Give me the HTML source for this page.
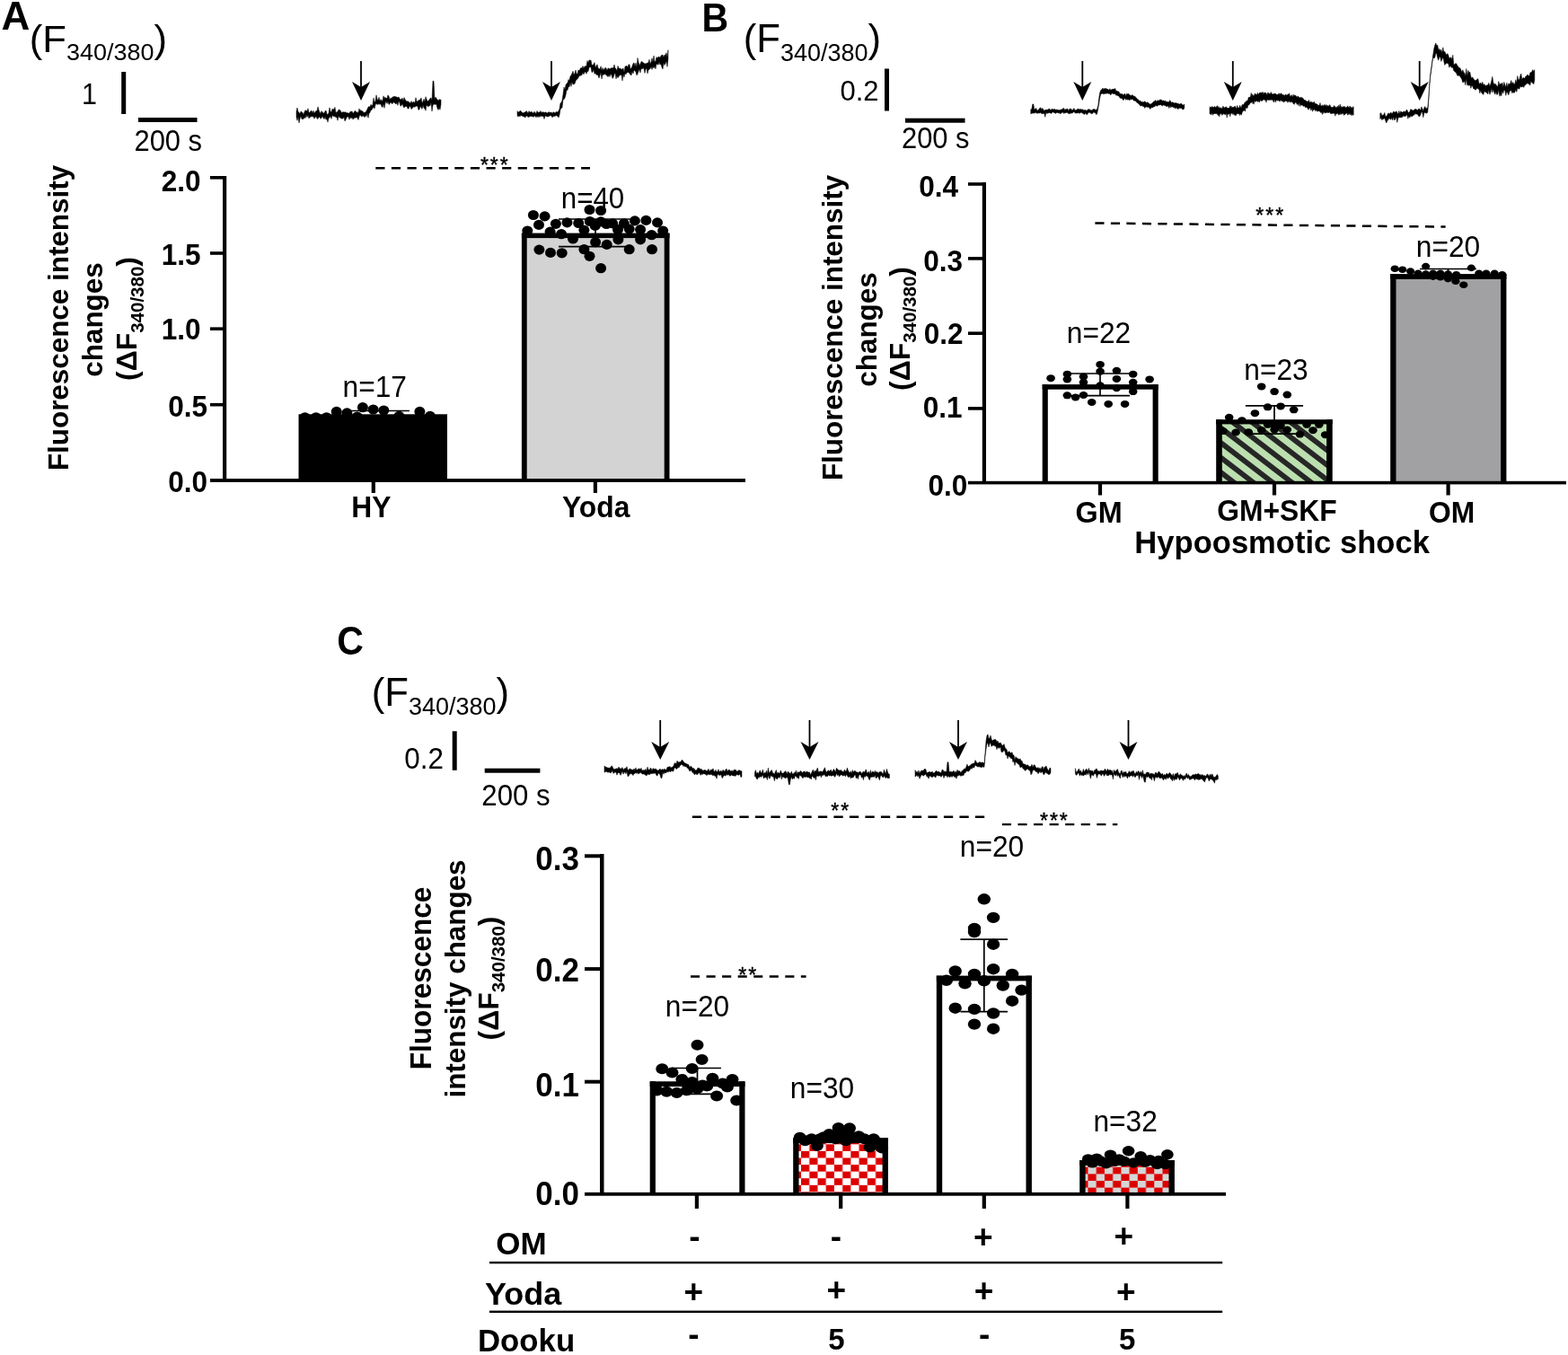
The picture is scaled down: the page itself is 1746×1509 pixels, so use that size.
<!DOCTYPE html>
<html lang="en"><head><meta charset="utf-8"><title>Figure</title>
<style>
html,body{margin:0;padding:0;background:#fff;}
body{width:1746px;height:1509px;overflow:hidden;}
svg{display:block;font-family:'Liberation Sans',Arial,Helvetica,sans-serif;fill:#000;}
</style></head><body>
<svg width="1746" height="1509" viewBox="0 0 1746 1509">
<rect width="1746" height="1509" fill="#fff"/>
<defs><clipPath id="cpH"><rect x="1358" y="470" width="122.5" height="66"/></clipPath><pattern id="chk1" width="18.44" height="15.16" patternUnits="userSpaceOnUse" x="892.05" y="1312.24"><rect width="18.44" height="15.16" fill="#fff"/><rect width="9.22" height="7.58" fill="#dc0000"/><rect x="9.22" y="7.58" width="9.22" height="7.58" fill="#dc0000"/></pattern><pattern id="chk2" width="18.44" height="15.2" patternUnits="userSpaceOnUse" x="1211.5" y="1307.4"><rect width="18.44" height="15.2" fill="#d4d6d6"/><rect width="9.22" height="7.6" fill="#dc0000"/><rect x="9.22" y="7.6" width="9.22" height="7.6" fill="#dc0000"/></pattern></defs>
<text transform="translate(1.5 32.8) scale(1.0 1.016)" font-size="44" font-weight="bold" text-anchor="start">A</text>
<text transform="translate(32.8 57.5) scale(1 0.97)" font-size="43.7">(F<tspan font-size="27" dy="9.8">340/380</tspan><tspan dy="-9.8">)</tspan></text>
<text transform="translate(91 116) scale(1.0 1.06)" font-size="30.5" text-anchor="start">1</text>
<rect x="135.2" y="80" width="5" height="47" fill="#000"/>
<rect x="154" y="131" width="65.5" height="5" fill="#000"/>
<text transform="translate(149.5 168.2) scale(1.0 1.06)" font-size="30.9" text-anchor="start">200 s</text>
<path d="M330.0 124.1 331.0 120.0 332.0 124.5 333.0 125.2 334.0 126.7 335.0 124.1 336.0 124.5 337.0 125.6 338.0 127.7 339.0 124.5 340.0 122.8 341.0 123.1 342.0 124.1 343.0 120.8 344.0 125.6 345.0 125.3 346.0 123.5 347.0 123.3 348.0 125.9 349.0 123.2 350.0 126.3 351.0 124.4 352.0 123.5 353.0 123.6 354.0 118.9 355.0 122.5 356.0 125.0 357.0 126.4 358.0 123.6 359.0 124.8 360.0 126.0 361.0 126.0 362.0 123.8 363.0 123.1 364.0 127.0 365.0 127.7 366.0 125.7 367.0 119.8 368.0 123.9 369.0 124.9 370.0 121.2 371.0 122.1 372.0 121.5 373.0 119.4 374.0 125.8 375.0 124.4 376.0 124.7 377.0 121.9 378.0 122.5 379.0 122.8 380.0 125.2 381.0 125.2 382.0 124.6 383.0 125.1 384.0 124.9 385.0 124.7 386.0 126.0 387.0 125.5 388.0 126.2 389.0 126.1 390.0 124.2 391.0 124.6 392.0 123.8 393.0 126.3 394.0 125.5 395.0 123.6 396.0 123.7 397.0 125.6 398.0 124.6 399.0 125.7 400.0 120.9 401.0 123.4 402.0 122.5 403.0 123.8 404.0 124.0 405.0 125.4 406.0 125.3 407.0 125.0 408.0 123.4 409.0 121.4 410.0 119.2 411.0 118.5 412.0 119.3 413.0 116.3 414.0 117.8 415.0 116.6 416.0 109.1 417.0 113.9 418.0 112.6 419.0 105.8 420.0 110.3 421.0 111.6 422.0 108.2 423.0 112.8 424.0 110.5 425.0 112.4 426.0 111.9 427.0 106.8 428.0 109.6 429.0 108.2 430.0 109.4 431.0 109.6 432.0 105.8 433.0 107.2 434.0 111.2 435.0 108.9 436.0 110.0 437.0 107.8 438.0 108.3 439.0 106.9 440.0 108.0 441.0 107.6 442.0 108.4 443.0 108.6 444.0 108.0 445.0 109.7 446.0 111.3 447.0 110.2 448.0 109.2 449.0 112.6 450.0 108.6 451.0 110.5 452.0 112.4 453.0 112.7 454.0 113.0 455.0 112.9 456.0 114.4 457.0 115.0 458.0 112.6 459.0 114.6 460.0 113.8 461.0 113.3 462.0 115.0 463.0 108.6 464.0 113.4 465.0 112.6 466.0 111.8 467.0 111.5 468.0 110.8 469.0 108.9 470.0 114.8 471.0 112.9 472.0 110.3 473.0 113.5 474.0 107.7 475.0 110.4 476.0 113.1 477.0 112.1 478.0 111.3 479.0 109.4 480.0 109.0 481.0 111.7 482.0 90.2 483.0 90.3 484.0 110.6 485.0 108.1 486.0 109.8 487.0 110.7 488.0 112.2 489.0 110.6 490.0 111.2 491.0 110.9 491.0 116.2 490.0 122.2 489.0 120.1 488.0 122.5 487.0 120.5 486.0 116.5 485.0 116.0 484.0 116.4 483.0 115.7 482.0 117.5 481.0 124.0 480.0 114.3 479.0 117.8 478.0 117.4 477.0 118.9 476.0 118.0 475.0 116.7 474.0 123.2 473.0 120.8 472.0 120.4 471.0 116.9 470.0 121.4 469.0 119.9 468.0 118.2 467.0 121.8 466.0 122.6 465.0 118.4 464.0 118.1 463.0 118.2 462.0 119.4 461.0 118.7 460.0 119.3 459.0 120.8 458.0 121.5 457.0 118.9 456.0 117.9 455.0 121.1 454.0 121.0 453.0 118.2 452.0 118.8 451.0 118.4 450.0 120.1 449.0 118.5 448.0 115.5 447.0 117.5 446.0 118.3 445.0 114.7 444.0 112.2 443.0 117.4 442.0 114.3 441.0 116.0 440.0 115.3 439.0 114.3 438.0 113.5 437.0 115.7 436.0 115.0 435.0 113.7 434.0 115.6 433.0 116.5 432.0 113.1 431.0 115.5 430.0 112.7 429.0 114.9 428.0 120.4 427.0 115.4 426.0 119.6 425.0 118.8 424.0 115.5 423.0 116.6 422.0 115.6 421.0 116.1 420.0 116.6 419.0 115.2 418.0 116.8 417.0 121.0 416.0 119.0 415.0 120.6 414.0 122.4 413.0 122.6 412.0 125.2 411.0 126.3 410.0 131.4 409.0 126.3 408.0 129.8 407.0 128.5 406.0 130.7 405.0 129.6 404.0 128.4 403.0 130.3 402.0 128.8 401.0 128.3 400.0 129.7 399.0 133.5 398.0 131.5 397.0 130.5 396.0 131.5 395.0 130.8 394.0 132.1 393.0 133.1 392.0 130.4 391.0 132.0 390.0 130.3 389.0 133.3 388.0 130.2 387.0 129.7 386.0 131.0 385.0 133.3 384.0 134.9 383.0 130.1 382.0 132.2 381.0 131.8 380.0 132.2 379.0 130.9 378.0 131.1 377.0 128.9 376.0 134.2 375.0 130.4 374.0 130.9 373.0 129.3 372.0 130.0 371.0 129.3 370.0 128.5 369.0 132.4 368.0 129.3 367.0 131.0 366.0 131.6 365.0 136.1 364.0 132.5 363.0 133.2 362.0 130.0 361.0 132.7 360.0 131.3 359.0 129.5 358.0 131.3 357.0 132.4 356.0 130.3 355.0 130.3 354.0 132.4 353.0 132.1 352.0 129.8 351.0 130.3 350.0 132.3 349.0 129.7 348.0 130.0 347.0 129.6 346.0 130.2 345.0 130.3 344.0 132.0 343.0 127.9 342.0 130.6 341.0 128.1 340.0 131.7 339.0 130.6 338.0 132.5 337.0 132.5 336.0 132.6 335.0 129.0 334.0 132.2 333.0 137.0 332.0 129.7 331.0 134.3 330.0 130.5Z" fill="#000" stroke="#000" stroke-width="0.5" stroke-linejoin="round"/>
<path d="M576.0 123.6 577.0 125.3 578.0 124.6 579.0 123.4 580.0 123.5 581.0 125.3 582.0 125.6 583.0 126.0 584.0 124.8 585.0 125.1 586.0 123.6 587.0 124.4 588.0 126.4 589.0 123.6 590.0 124.9 591.0 124.9 592.0 124.2 593.0 125.6 594.0 126.2 595.0 124.1 596.0 125.7 597.0 126.4 598.0 123.5 599.0 125.2 600.0 125.1 601.0 124.9 602.0 123.5 603.0 125.5 604.0 124.8 605.0 124.8 606.0 125.5 607.0 125.1 608.0 124.8 609.0 126.2 610.0 125.6 611.0 124.5 612.0 125.3 613.0 125.3 614.0 125.0 615.0 126.4 616.0 124.8 617.0 125.0 618.0 126.2 619.0 124.5 620.0 124.8 621.0 124.8 622.0 123.4 623.0 121.3 624.0 114.9 625.0 114.3 626.0 111.5 627.0 105.2 628.0 96.9 629.0 100.1 630.0 94.6 631.0 93.1 632.0 92.3 633.0 88.5 634.0 89.7 635.0 84.9 636.0 83.7 637.0 81.8 638.0 79.2 639.0 83.6 640.0 81.5 641.0 78.1 642.0 82.3 643.0 82.3 644.0 77.8 645.0 79.0 646.0 76.7 647.0 75.2 648.0 76.3 649.0 73.4 650.0 76.4 651.0 73.8 652.0 73.8 653.0 73.8 654.0 67.6 655.0 70.2 656.0 66.7 657.0 67.5 658.0 67.0 659.0 72.2 660.0 72.6 661.0 71.6 662.0 69.6 663.0 75.4 664.0 73.3 665.0 71.7 666.0 75.7 667.0 76.6 668.0 77.0 669.0 73.7 670.0 78.6 671.0 75.4 672.0 78.4 673.0 76.4 674.0 75.5 675.0 75.8 676.0 78.8 677.0 75.9 678.0 76.1 679.0 77.3 680.0 75.7 681.0 76.1 682.0 75.5 683.0 75.9 684.0 72.0 685.0 76.1 686.0 76.6 687.0 79.1 688.0 73.4 689.0 75.8 690.0 76.6 691.0 75.9 692.0 77.8 693.0 76.6 694.0 76.2 695.0 80.4 696.0 74.1 697.0 73.8 698.0 73.2 699.0 75.3 700.0 71.7 701.0 71.9 702.0 77.0 703.0 75.7 704.0 73.7 705.0 70.7 706.0 69.9 707.0 73.7 708.0 70.1 709.0 74.9 710.0 64.4 711.0 69.3 712.0 73.0 713.0 70.9 714.0 68.7 715.0 68.4 716.0 69.9 717.0 69.9 718.0 71.4 719.0 70.6 720.0 70.7 721.0 70.1 722.0 69.7 723.0 66.2 724.0 71.3 725.0 68.9 726.0 64.7 727.0 69.4 728.0 62.0 729.0 68.9 730.0 68.1 731.0 63.5 732.0 64.8 733.0 63.3 734.0 63.2 735.0 64.3 736.0 62.1 737.0 61.4 738.0 61.1 739.0 64.0 740.0 61.0 741.0 61.6 742.0 58.8 743.0 63.9 744.0 55.7 744.0 65.4 743.0 74.4 742.0 68.0 741.0 70.7 740.0 72.6 739.0 70.0 738.0 76.9 737.0 74.9 736.0 71.3 735.0 72.3 734.0 68.9 733.0 72.3 732.0 71.6 731.0 71.2 730.0 76.8 729.0 73.7 728.0 76.1 727.0 74.1 726.0 77.4 725.0 74.2 724.0 76.7 723.0 77.0 722.0 78.2 721.0 81.9 720.0 76.2 719.0 77.1 718.0 81.5 717.0 76.6 716.0 75.7 715.0 76.9 714.0 76.2 713.0 81.1 712.0 77.1 711.0 79.5 710.0 82.3 709.0 83.9 708.0 80.3 707.0 78.8 706.0 78.2 705.0 82.0 704.0 79.3 703.0 84.0 702.0 83.0 701.0 82.0 700.0 80.3 699.0 81.0 698.0 80.6 697.0 82.9 696.0 81.6 695.0 86.1 694.0 82.8 693.0 90.0 692.0 82.8 691.0 84.0 690.0 83.4 689.0 85.3 688.0 86.7 687.0 84.0 686.0 87.9 685.0 81.0 684.0 82.9 683.0 86.1 682.0 87.4 681.0 83.8 680.0 82.3 679.0 85.6 678.0 83.3 677.0 85.7 676.0 83.9 675.0 84.1 674.0 82.1 673.0 83.1 672.0 83.3 671.0 83.0 670.0 88.0 669.0 80.6 668.0 84.2 667.0 87.0 666.0 84.1 665.0 82.9 664.0 83.5 663.0 81.0 662.0 82.5 661.0 77.3 660.0 80.2 659.0 80.5 658.0 74.9 657.0 74.4 656.0 75.5 655.0 79.5 654.0 79.4 653.0 82.3 652.0 80.1 651.0 80.2 650.0 82.9 649.0 80.4 648.0 83.5 647.0 84.0 646.0 84.3 645.0 84.6 644.0 86.4 643.0 88.0 642.0 88.6 641.0 90.2 640.0 93.2 639.0 93.6 638.0 94.3 637.0 90.9 636.0 96.3 635.0 92.0 634.0 97.0 633.0 96.2 632.0 100.6 631.0 100.0 630.0 105.8 629.0 109.1 628.0 110.8 627.0 110.7 626.0 119.9 625.0 120.4 624.0 121.8 623.0 128.0 622.0 130.9 621.0 129.4 620.0 128.9 619.0 128.4 618.0 129.8 617.0 129.0 616.0 129.8 615.0 130.8 614.0 129.3 613.0 128.4 612.0 128.9 611.0 129.9 610.0 129.5 609.0 130.2 608.0 128.9 607.0 129.2 606.0 132.5 605.0 129.3 604.0 129.5 603.0 129.5 602.0 128.7 601.0 130.6 600.0 128.9 599.0 130.7 598.0 129.1 597.0 130.7 596.0 129.4 595.0 128.7 594.0 130.6 593.0 129.4 592.0 129.8 591.0 129.2 590.0 129.8 589.0 130.1 588.0 130.7 587.0 128.9 586.0 129.0 585.0 130.8 584.0 130.5 583.0 129.4 582.0 129.7 581.0 128.7 580.0 128.6 579.0 129.8 578.0 128.7 577.0 130.2 576.0 128.3Z" fill="#000" stroke="#000" stroke-width="0.5" stroke-linejoin="round"/>
<line x1="402" y1="68" x2="402" y2="99" stroke="#000" stroke-width="1.8"/>
<path d="M402 112 L392 91 L402 97 L412 91 Z" fill="#000"/>
<line x1="614" y1="68" x2="614" y2="99" stroke="#000" stroke-width="1.8"/>
<path d="M614 112 L604 91 L614 97 L624 91 Z" fill="#000"/>
<line x1="418.3" y1="187.2" x2="657" y2="187.2" stroke="#000" stroke-width="2.4" stroke-dasharray="10.2 7.4"/>
<text transform="translate(551.3 191.7)" font-size="23" letter-spacing="1.95" text-anchor="middle" stroke="#000" stroke-width="0.4">***</text>
<rect x="248" y="196" width="4.2" height="340.5" fill="#000"/>
<rect x="234" y="196" width="16" height="3.6" fill="#000"/>
<rect x="234" y="280.2" width="16" height="3.6" fill="#000"/>
<rect x="234" y="364.4" width="16" height="3.6" fill="#000"/>
<rect x="234" y="448.9" width="16" height="3.6" fill="#000"/>
<rect x="413.7" y="534" width="4.2" height="15" fill="#000"/>
<rect x="660.8" y="534" width="4.2" height="15" fill="#000"/>
<text transform="translate(223.5 212.7) scale(1.0 1.04)" font-size="31.5" font-weight="bold" text-anchor="end">2.0</text>
<text transform="translate(223.5 294.7) scale(1.0 1.04)" font-size="31.5" font-weight="bold" text-anchor="end">1.5</text>
<text transform="translate(223.5 378.3) scale(1.0 1.04)" font-size="31.5" font-weight="bold" text-anchor="end">1.0</text>
<text transform="translate(231 463.5) scale(1.0 1.04)" font-size="31.5" font-weight="bold" text-anchor="end">0.5</text>
<text transform="translate(231 548.2) scale(1.0 1.04)" font-size="31.5" font-weight="bold" text-anchor="end">0.0</text>
<text transform="translate(76 354) rotate(-90)" font-size="31.4" font-weight="bold" text-anchor="middle">Fluorescence intensity</text>
<text transform="translate(114.3 356) rotate(-90)" font-size="31.4" font-weight="bold" text-anchor="middle">changes</text>
<text transform="translate(152 355) rotate(-90) scale(1 1.0)" font-size="32" font-weight="bold" text-anchor="middle">(ΔF<tspan font-size="20.5" dy="7.5">340/380</tspan><tspan dy="-7.5">)</tspan></text>
<rect x="332.5" y="461.3" width="165.5" height="73" fill="#000"/>
<rect x="583.8" y="262.35" width="158.8" height="271.65" fill="#d3d3d3"/>
<rect x="580.9" y="259.6" width="5.8" height="274.4" fill="#000"/>
<rect x="739.7" y="259.6" width="5.8" height="274.4" fill="#000"/>
<rect x="580.9" y="259.6" width="164.6" height="5.5" fill="#000"/>
<text transform="translate(417.3 442.3) scale(1.0 1.04)" font-size="31.7" text-anchor="middle">n=17</text>
<text transform="translate(660 232) scale(1.0 1.04)" font-size="31.3" text-anchor="middle">n=40</text>
<text transform="translate(413.4 576.4) scale(1.0 1.04)" font-size="31.8" font-weight="bold" text-anchor="middle">HY</text>
<text transform="translate(663.7 576) scale(1.0 1.04)" font-size="31.8" font-weight="bold" text-anchor="middle">Yoda</text>
<g fill="#000">
<ellipse cx="339.6" cy="464.8" rx="6" ry="5.6"/>
<ellipse cx="351.9" cy="464.8" rx="6" ry="5.6"/>
<ellipse cx="363.6" cy="464.8" rx="6" ry="5.6"/>
<ellipse cx="374.7" cy="458.4" rx="6" ry="5.6"/>
<ellipse cx="386.4" cy="459.9" rx="6" ry="5.6"/>
<ellipse cx="397.7" cy="464.2" rx="6" ry="5.6"/>
<ellipse cx="403.9" cy="453.7" rx="6" ry="5.6"/>
<ellipse cx="415.6" cy="456.0" rx="6" ry="5.6"/>
<ellipse cx="427.3" cy="457.0" rx="6" ry="5.6"/>
<ellipse cx="444.4" cy="463.4" rx="6" ry="5.6"/>
<ellipse cx="467.4" cy="458.4" rx="6" ry="5.6"/>
<ellipse cx="478.9" cy="463.4" rx="6" ry="5.6"/>
<ellipse cx="593.9" cy="239.5" rx="6" ry="5.6"/>
<ellipse cx="606.6" cy="240.9" rx="6" ry="5.6"/>
<ellipse cx="656.5" cy="233.5" rx="6" ry="5.6"/>
<ellipse cx="669.1" cy="234.5" rx="6" ry="5.6"/>
<ellipse cx="600.0" cy="250.4" rx="6" ry="5.6"/>
<ellipse cx="618.9" cy="249.3" rx="6" ry="5.6"/>
<ellipse cx="631.5" cy="247.9" rx="6" ry="5.6"/>
<ellipse cx="644.2" cy="248.5" rx="6" ry="5.6"/>
<ellipse cx="656.8" cy="246.5" rx="6" ry="5.6"/>
<ellipse cx="669.1" cy="246.9" rx="6" ry="5.6"/>
<ellipse cx="662.7" cy="251.4" rx="6" ry="5.6"/>
<ellipse cx="675.3" cy="249.5" rx="6" ry="5.6"/>
<ellipse cx="682.2" cy="248.9" rx="6" ry="5.6"/>
<ellipse cx="694.8" cy="248.9" rx="6" ry="5.6"/>
<ellipse cx="706.9" cy="245.9" rx="6" ry="5.6"/>
<ellipse cx="719.4" cy="245.4" rx="6" ry="5.6"/>
<ellipse cx="732.0" cy="247.9" rx="6" ry="5.6"/>
<ellipse cx="587.3" cy="257.0" rx="6" ry="5.6"/>
<ellipse cx="612.6" cy="258.2" rx="6" ry="5.6"/>
<ellipse cx="625.1" cy="260.7" rx="6" ry="5.6"/>
<ellipse cx="650.4" cy="256.3" rx="6" ry="5.6"/>
<ellipse cx="688.0" cy="255.7" rx="6" ry="5.6"/>
<ellipse cx="700.7" cy="255.1" rx="6" ry="5.6"/>
<ellipse cx="713.1" cy="255.7" rx="6" ry="5.6"/>
<ellipse cx="738.2" cy="257.0" rx="6" ry="5.6"/>
<ellipse cx="725.6" cy="261.7" rx="6" ry="5.6"/>
<ellipse cx="638.0" cy="266.0" rx="6" ry="5.6"/>
<ellipse cx="663.1" cy="269.7" rx="6" ry="5.6"/>
<ellipse cx="675.7" cy="272.4" rx="6" ry="5.6"/>
<ellipse cx="688.4" cy="266.8" rx="6" ry="5.6"/>
<ellipse cx="713.1" cy="266.8" rx="6" ry="5.6"/>
<ellipse cx="600.4" cy="278.1" rx="6" ry="5.6"/>
<ellipse cx="613.0" cy="281.4" rx="6" ry="5.6"/>
<ellipse cx="625.7" cy="281.8" rx="6" ry="5.6"/>
<ellipse cx="650.4" cy="277.7" rx="6" ry="5.6"/>
<ellipse cx="656.5" cy="285.3" rx="6" ry="5.6"/>
<ellipse cx="700.7" cy="277.7" rx="6" ry="5.6"/>
<ellipse cx="726.0" cy="277.7" rx="6" ry="5.6"/>
<ellipse cx="669.1" cy="298.7" rx="6" ry="5.6"/>
</g>
<line x1="663" y1="244" x2="663" y2="274.6" stroke="#000" stroke-width="1.7"/>
<line x1="622" y1="244" x2="701.6" y2="244" stroke="#000" stroke-width="1.7"/>
<line x1="622" y1="274.6" x2="701.6" y2="274.6" stroke="#000" stroke-width="1.7"/>
<rect x="234" y="533.1" width="596" height="3.8" fill="#000"/>
<line x1="391" y1="457.5" x2="456" y2="457.5" stroke="#000" stroke-width="1.7"/>
<text transform="translate(781.5 35.2) scale(1.0 1.065)" font-size="41" font-weight="bold" text-anchor="start">B</text>
<text transform="translate(827.8 57.7) scale(1 1.02)" font-size="43.7">(F<tspan font-size="27" dy="9.8">340/380</tspan><tspan dy="-9.8">)</tspan></text>
<text transform="translate(935.5 111.5) scale(1.0 1.04)" font-size="31" text-anchor="start">0.2</text>
<rect x="985" y="76.5" width="5" height="47" fill="#000"/>
<rect x="1008" y="131.7" width="66.5" height="5" fill="#000"/>
<text transform="translate(1004 165) scale(1.0 1.06)" font-size="30.9" text-anchor="start">200 s</text>
<path d="M1147.8 121.7 1148.8 121.7 1149.8 115.9 1150.8 115.9 1151.8 122.2 1152.8 121.2 1153.8 120.5 1154.8 123.0 1155.8 123.0 1156.8 121.6 1157.8 120.4 1158.8 119.8 1159.8 122.0 1160.8 120.4 1161.8 122.1 1162.8 123.4 1163.8 122.3 1164.8 122.4 1165.8 122.0 1166.8 122.3 1167.8 121.3 1168.8 121.1 1169.8 123.2 1170.8 121.5 1171.8 121.5 1172.8 121.8 1173.8 121.7 1174.8 121.6 1175.8 122.4 1176.8 122.0 1177.8 122.2 1178.8 122.8 1179.8 122.5 1180.8 122.4 1181.8 121.8 1182.8 121.9 1183.8 120.5 1184.8 120.7 1185.8 122.7 1186.8 121.3 1187.8 121.8 1188.8 120.9 1189.8 123.5 1190.8 121.4 1191.8 121.0 1192.8 121.3 1193.8 122.9 1194.8 121.9 1195.8 120.5 1196.8 122.4 1197.8 122.7 1198.8 122.4 1199.8 121.3 1200.8 121.3 1201.8 121.8 1202.8 121.8 1203.8 121.4 1204.8 122.2 1205.8 121.7 1206.8 123.1 1207.8 122.6 1208.8 122.3 1209.8 123.5 1210.8 122.4 1211.8 121.7 1212.8 121.7 1213.8 122.1 1214.8 122.9 1215.8 122.7 1216.8 122.0 1217.8 121.6 1218.8 121.6 1219.8 122.2 1220.8 122.6 1221.8 120.8 1222.8 117.2 1223.8 108.6 1224.8 103.0 1225.8 100.2 1226.8 99.9 1227.8 98.1 1228.8 99.5 1229.8 98.3 1230.8 98.9 1231.8 98.3 1232.8 99.5 1233.8 99.3 1234.8 100.4 1235.8 98.7 1236.8 100.6 1237.8 99.6 1238.8 99.6 1239.8 99.1 1240.8 99.2 1241.8 98.4 1242.8 101.5 1243.8 101.0 1244.8 102.3 1245.8 101.7 1246.8 104.3 1247.8 104.0 1248.8 105.1 1249.8 104.6 1250.8 105.8 1251.8 104.9 1252.8 104.2 1253.8 107.1 1254.8 104.1 1255.8 105.1 1256.8 104.2 1257.8 106.0 1258.8 105.9 1259.8 106.7 1260.8 105.4 1261.8 106.6 1262.8 107.3 1263.8 107.2 1264.8 108.4 1265.8 109.4 1266.8 110.4 1267.8 111.2 1268.8 112.5 1269.8 112.0 1270.8 113.9 1271.8 112.9 1272.8 113.9 1273.8 113.6 1274.8 112.8 1275.8 113.7 1276.8 114.5 1277.8 113.8 1278.8 114.8 1279.8 115.3 1280.8 116.3 1281.8 115.6 1282.8 115.3 1283.8 113.8 1284.8 113.0 1285.8 112.5 1286.8 111.6 1287.8 113.4 1288.8 111.7 1289.8 112.0 1290.8 112.0 1291.8 110.7 1292.8 111.2 1293.8 111.5 1294.8 112.4 1295.8 111.7 1296.8 113.1 1297.8 111.9 1298.8 114.0 1299.8 113.1 1300.8 113.7 1301.8 113.6 1302.8 111.6 1303.8 113.6 1304.8 114.3 1305.8 113.7 1306.8 114.3 1307.8 115.0 1308.8 114.6 1309.8 114.7 1310.8 115.1 1311.8 115.5 1312.8 115.6 1313.8 116.2 1314.8 115.2 1315.8 115.5 1316.8 116.7 1317.8 117.0 1318.8 116.1 1318.8 120.4 1317.8 121.9 1316.8 121.9 1315.8 120.5 1314.8 120.4 1313.8 120.3 1312.8 120.7 1311.8 121.5 1310.8 121.1 1309.8 119.2 1308.8 121.2 1307.8 119.5 1306.8 120.0 1305.8 118.9 1304.8 118.6 1303.8 120.0 1302.8 117.6 1301.8 120.5 1300.8 118.1 1299.8 118.3 1298.8 118.7 1297.8 117.7 1296.8 117.6 1295.8 116.8 1294.8 117.8 1293.8 117.7 1292.8 116.6 1291.8 117.0 1290.8 117.0 1289.8 116.8 1288.8 118.2 1287.8 117.9 1286.8 117.2 1285.8 118.9 1284.8 118.4 1283.8 119.9 1282.8 119.6 1281.8 120.3 1280.8 121.5 1279.8 120.3 1278.8 119.1 1277.8 119.5 1276.8 119.1 1275.8 118.8 1274.8 120.5 1273.8 118.5 1272.8 118.8 1271.8 117.4 1270.8 118.1 1269.8 117.8 1268.8 116.5 1267.8 115.6 1266.8 114.8 1265.8 114.0 1264.8 113.1 1263.8 111.9 1262.8 112.4 1261.8 111.0 1260.8 110.4 1259.8 111.1 1258.8 110.2 1257.8 111.9 1256.8 110.5 1255.8 111.4 1254.8 110.3 1253.8 111.4 1252.8 109.3 1251.8 110.5 1250.8 111.8 1249.8 109.9 1248.8 109.5 1247.8 109.4 1246.8 108.7 1245.8 106.8 1244.8 106.9 1243.8 105.8 1242.8 106.4 1241.8 104.2 1240.8 104.7 1239.8 104.6 1238.8 104.0 1237.8 104.2 1236.8 105.9 1235.8 104.1 1234.8 104.7 1233.8 103.4 1232.8 104.5 1231.8 103.4 1230.8 104.8 1229.8 104.0 1228.8 104.9 1227.8 104.1 1226.8 104.4 1225.8 104.7 1224.8 108.6 1223.8 115.2 1222.8 120.7 1221.8 125.9 1220.8 127.8 1219.8 125.7 1218.8 125.5 1217.8 124.7 1216.8 126.3 1215.8 126.6 1214.8 126.6 1213.8 125.2 1212.8 125.2 1211.8 125.4 1210.8 127.4 1209.8 127.5 1208.8 125.4 1207.8 127.4 1206.8 127.1 1205.8 126.2 1204.8 125.8 1203.8 125.1 1202.8 126.0 1201.8 126.2 1200.8 125.4 1199.8 125.9 1198.8 126.1 1197.8 126.1 1196.8 125.4 1195.8 124.6 1194.8 125.3 1193.8 126.2 1192.8 125.7 1191.8 126.6 1190.8 126.6 1189.8 126.5 1188.8 125.8 1187.8 124.9 1186.8 125.9 1185.8 125.6 1184.8 126.6 1183.8 125.1 1182.8 125.3 1181.8 125.8 1180.8 126.9 1179.8 125.8 1178.8 126.1 1177.8 125.4 1176.8 125.3 1175.8 126.4 1174.8 125.7 1173.8 125.8 1172.8 124.7 1171.8 125.1 1170.8 126.4 1169.8 126.0 1168.8 125.4 1167.8 125.7 1166.8 126.0 1165.8 126.5 1164.8 125.2 1163.8 130.4 1162.8 126.3 1161.8 126.4 1160.8 126.4 1159.8 126.7 1158.8 125.3 1157.8 126.1 1156.8 125.7 1155.8 126.3 1154.8 126.1 1153.8 126.0 1152.8 125.1 1151.8 126.3 1150.8 125.8 1149.8 126.3 1148.8 125.9 1147.8 127.1Z" fill="#000" stroke="#000" stroke-width="0.5" stroke-linejoin="round"/>
<path d="M1347.0 120.0 1347.6 118.7 1348.2 120.1 1348.8 119.6 1349.4 118.7 1350.0 118.5 1350.6 120.4 1351.2 118.9 1351.8 120.2 1352.4 118.4 1353.0 119.0 1353.6 119.9 1354.2 118.6 1354.8 120.1 1355.4 117.6 1356.0 118.3 1356.6 120.7 1357.2 118.7 1357.8 120.2 1358.4 120.4 1359.0 120.0 1359.6 119.8 1360.2 120.6 1360.8 121.4 1361.4 119.3 1362.0 118.1 1362.6 119.7 1363.2 119.7 1363.8 119.9 1364.4 119.5 1365.0 118.7 1365.6 119.1 1366.2 120.6 1366.8 119.9 1367.4 120.5 1368.0 120.3 1368.6 120.3 1369.2 119.5 1369.8 117.8 1370.4 119.4 1371.0 118.0 1371.6 120.0 1372.2 119.6 1372.8 119.6 1373.4 119.0 1374.0 119.7 1374.6 118.6 1375.2 118.0 1375.8 118.9 1376.4 120.6 1377.0 120.9 1377.6 117.4 1378.2 119.0 1378.8 120.3 1379.4 119.9 1380.0 120.0 1380.6 117.3 1381.2 118.5 1381.8 120.2 1382.4 119.2 1383.0 116.8 1383.6 116.4 1384.2 116.6 1384.8 116.2 1385.4 116.1 1386.0 113.8 1386.6 114.2 1387.2 113.3 1387.8 112.5 1388.4 111.9 1389.0 112.3 1389.6 111.4 1390.2 108.3 1390.8 108.5 1391.4 108.2 1392.0 108.6 1392.6 107.1 1393.2 103.5 1393.8 107.0 1394.4 104.7 1395.0 107.6 1395.6 105.8 1396.2 106.6 1396.8 105.7 1397.4 104.0 1398.0 104.4 1398.6 105.3 1399.2 104.8 1399.8 105.9 1400.4 103.2 1401.0 104.9 1401.6 105.3 1402.2 103.6 1402.8 103.2 1403.4 103.8 1404.0 102.6 1404.6 104.3 1405.2 103.2 1405.8 102.5 1406.4 105.4 1407.0 102.6 1407.6 104.4 1408.2 103.4 1408.8 103.3 1409.4 103.5 1410.0 103.6 1410.6 105.4 1411.2 105.6 1411.8 102.8 1412.4 103.9 1413.0 103.8 1413.6 104.7 1414.2 103.6 1414.8 105.3 1415.4 102.4 1416.0 105.0 1416.6 104.3 1417.2 105.1 1417.8 105.0 1418.4 104.2 1419.0 104.3 1419.6 104.8 1420.2 103.9 1420.8 104.8 1421.4 105.3 1422.0 105.2 1422.6 105.7 1423.2 104.6 1423.8 105.0 1424.4 103.7 1425.0 106.4 1425.6 104.4 1426.2 103.8 1426.8 103.9 1427.4 105.7 1428.0 104.8 1428.6 105.8 1429.2 106.3 1429.8 105.6 1430.4 106.4 1431.0 106.0 1431.6 104.8 1432.2 106.6 1432.8 105.6 1433.4 105.5 1434.0 105.7 1434.6 104.7 1435.2 105.2 1435.8 103.8 1436.4 107.3 1437.0 107.4 1437.6 106.3 1438.2 107.9 1438.8 105.4 1439.4 107.1 1440.0 107.8 1440.6 105.3 1441.2 105.8 1441.8 106.9 1442.4 105.9 1443.0 106.6 1443.6 107.8 1444.2 107.2 1444.8 108.7 1445.4 106.9 1446.0 108.2 1446.6 108.1 1447.2 108.8 1447.8 109.3 1448.4 108.1 1449.0 108.6 1449.6 108.8 1450.2 108.9 1450.8 109.2 1451.4 110.1 1452.0 111.3 1452.6 111.5 1453.2 111.8 1453.8 111.5 1454.4 112.2 1455.0 112.9 1455.6 113.0 1456.2 112.8 1456.8 113.3 1457.4 111.3 1458.0 113.2 1458.6 114.3 1459.2 113.8 1459.8 112.9 1460.4 113.5 1461.0 114.6 1461.6 114.1 1462.2 113.7 1462.8 114.8 1463.4 113.1 1464.0 115.6 1464.6 115.2 1465.2 115.4 1465.8 115.6 1466.4 116.2 1467.0 116.0 1467.6 117.4 1468.2 117.2 1468.8 117.3 1469.4 116.7 1470.0 114.5 1470.6 117.8 1471.2 117.7 1471.8 118.2 1472.4 116.7 1473.0 118.0 1473.6 118.2 1474.2 116.9 1474.8 116.3 1475.4 117.8 1476.0 117.9 1476.6 116.4 1477.2 116.9 1477.8 119.0 1478.4 117.7 1479.0 117.4 1479.6 118.8 1480.2 117.3 1480.8 116.6 1481.4 118.1 1482.0 118.9 1482.6 119.6 1483.2 119.4 1483.8 119.7 1484.4 119.0 1485.0 119.3 1485.6 117.6 1486.2 118.1 1486.8 119.0 1487.4 119.9 1488.0 119.4 1488.6 119.5 1489.2 118.2 1489.8 119.9 1490.4 117.2 1491.0 119.9 1491.6 118.4 1492.2 116.0 1492.8 119.1 1493.4 118.4 1494.0 120.4 1494.6 119.0 1495.2 119.3 1495.8 118.5 1496.4 119.5 1497.0 118.3 1497.6 119.2 1498.2 119.3 1498.8 120.5 1499.4 119.3 1500.0 119.6 1500.6 117.8 1501.2 119.3 1501.8 119.3 1502.4 120.2 1503.0 118.0 1503.6 120.1 1504.2 118.7 1504.8 120.6 1505.4 120.1 1506.0 120.2 1506.6 118.7 1507.2 119.0 1507.2 128.1 1506.6 127.0 1506.0 128.7 1505.4 126.5 1504.8 128.6 1504.2 127.1 1503.6 127.8 1503.0 125.6 1502.4 127.5 1501.8 126.1 1501.2 128.0 1500.6 128.1 1500.0 125.6 1499.4 126.2 1498.8 126.8 1498.2 126.2 1497.6 127.9 1497.0 126.6 1496.4 128.6 1495.8 126.0 1495.2 126.4 1494.6 126.9 1494.0 126.4 1493.4 127.1 1492.8 127.7 1492.2 125.4 1491.6 127.7 1491.0 126.3 1490.4 128.2 1489.8 125.9 1489.2 126.4 1488.6 126.3 1488.0 127.4 1487.4 126.4 1486.8 129.3 1486.2 126.0 1485.6 126.5 1485.0 126.1 1484.4 126.1 1483.8 126.8 1483.2 125.8 1482.6 126.5 1482.0 127.0 1481.4 125.9 1480.8 125.3 1480.2 125.0 1479.6 125.4 1479.0 125.7 1478.4 125.2 1477.8 125.1 1477.2 125.7 1476.6 125.4 1476.0 125.7 1475.4 126.1 1474.8 124.6 1474.2 125.3 1473.6 126.5 1473.0 123.7 1472.4 127.6 1471.8 124.5 1471.2 125.6 1470.6 125.4 1470.0 124.4 1469.4 124.1 1468.8 123.3 1468.2 123.9 1467.6 123.4 1467.0 124.4 1466.4 123.5 1465.8 122.9 1465.2 123.1 1464.6 123.8 1464.0 121.7 1463.4 121.9 1462.8 122.4 1462.2 122.7 1461.6 124.3 1461.0 121.1 1460.4 121.4 1459.8 123.2 1459.2 120.4 1458.6 120.0 1458.0 121.1 1457.4 121.6 1456.8 122.3 1456.2 120.3 1455.6 120.2 1455.0 119.5 1454.4 119.3 1453.8 120.1 1453.2 118.8 1452.6 118.4 1452.0 117.6 1451.4 118.6 1450.8 117.6 1450.2 117.2 1449.6 116.9 1449.0 117.2 1448.4 116.5 1447.8 118.6 1447.2 115.5 1446.6 114.8 1446.0 117.8 1445.4 116.1 1444.8 115.2 1444.2 116.4 1443.6 115.1 1443.0 113.5 1442.4 114.5 1441.8 114.4 1441.2 116.4 1440.6 115.4 1440.0 115.5 1439.4 114.1 1438.8 113.6 1438.2 113.4 1437.6 113.1 1437.0 114.2 1436.4 113.4 1435.8 113.4 1435.2 112.6 1434.6 112.8 1434.0 114.4 1433.4 112.7 1432.8 112.5 1432.2 113.0 1431.6 112.3 1431.0 112.2 1430.4 113.3 1429.8 113.6 1429.2 113.7 1428.6 113.2 1428.0 111.9 1427.4 112.8 1426.8 111.3 1426.2 112.3 1425.6 111.7 1425.0 113.3 1424.4 112.4 1423.8 111.1 1423.2 112.2 1422.6 112.2 1422.0 111.3 1421.4 112.0 1420.8 112.4 1420.2 114.1 1419.6 111.6 1419.0 110.9 1418.4 113.9 1417.8 112.9 1417.2 111.4 1416.6 111.0 1416.0 111.4 1415.4 111.2 1414.8 111.1 1414.2 111.3 1413.6 111.2 1413.0 111.8 1412.4 111.3 1411.8 111.1 1411.2 111.5 1410.6 111.5 1410.0 114.1 1409.4 111.5 1408.8 112.1 1408.2 111.6 1407.6 110.6 1407.0 111.0 1406.4 111.6 1405.8 112.2 1405.2 112.1 1404.6 112.8 1404.0 111.0 1403.4 111.6 1402.8 113.4 1402.2 113.6 1401.6 111.6 1401.0 113.8 1400.4 113.2 1399.8 112.4 1399.2 111.9 1398.6 112.9 1398.0 113.6 1397.4 112.8 1396.8 112.5 1396.2 116.1 1395.6 113.6 1395.0 115.7 1394.4 112.5 1393.8 114.4 1393.2 113.8 1392.6 114.5 1392.0 115.0 1391.4 116.0 1390.8 116.9 1390.2 117.0 1389.6 117.7 1389.0 120.5 1388.4 120.4 1387.8 119.9 1387.2 120.1 1386.6 123.9 1386.0 123.7 1385.4 122.2 1384.8 123.4 1384.2 123.7 1383.6 124.2 1383.0 125.9 1382.4 128.2 1381.8 127.1 1381.2 127.0 1380.6 128.5 1380.0 126.2 1379.4 127.1 1378.8 126.7 1378.2 126.8 1377.6 126.2 1377.0 127.2 1376.4 128.6 1375.8 127.9 1375.2 128.7 1374.6 126.6 1374.0 128.2 1373.4 125.5 1372.8 127.5 1372.2 126.2 1371.6 126.1 1371.0 126.4 1370.4 126.9 1369.8 129.8 1369.2 126.1 1368.6 126.9 1368.0 127.6 1367.4 127.3 1366.8 126.3 1366.2 131.2 1365.6 127.2 1365.0 126.3 1364.4 128.1 1363.8 126.9 1363.2 127.3 1362.6 126.3 1362.0 127.4 1361.4 127.3 1360.8 128.4 1360.2 126.4 1359.6 126.2 1359.0 127.3 1358.4 126.7 1357.8 130.1 1357.2 127.5 1356.6 128.4 1356.0 128.3 1355.4 126.7 1354.8 126.7 1354.2 126.4 1353.6 126.5 1353.0 127.1 1352.4 126.2 1351.8 126.8 1351.2 126.7 1350.6 128.3 1350.0 126.6 1349.4 126.1 1348.8 128.2 1348.2 126.1 1347.6 127.3 1347.0 126.6Z" fill="#000" stroke="#000" stroke-width="0.5" stroke-linejoin="round"/>
<path d="M1536.8 126.6 1537.8 125.6 1538.8 128.9 1539.8 128.0 1540.8 127.9 1541.8 125.4 1542.8 129.8 1543.8 129.5 1544.8 127.9 1545.8 125.9 1546.8 126.4 1547.8 126.5 1548.8 124.9 1549.8 127.1 1550.8 125.6 1551.8 123.9 1552.8 124.9 1553.8 125.0 1554.8 123.7 1555.8 125.3 1556.8 127.2 1557.8 123.4 1558.8 126.7 1559.8 123.8 1560.8 124.7 1561.8 125.1 1562.8 124.5 1563.8 123.7 1564.8 125.1 1565.8 122.8 1566.8 122.3 1567.8 124.8 1568.8 125.5 1569.8 124.3 1570.8 121.6 1571.8 122.2 1572.8 122.6 1573.8 123.3 1574.8 122.0 1575.8 121.6 1576.8 121.6 1577.8 122.3 1578.8 122.8 1579.8 121.0 1580.8 121.2 1581.8 123.3 1582.8 118.9 1583.8 120.9 1584.8 123.5 1585.8 120.2 1586.8 118.5 1587.8 121.1 1588.8 120.4 1589.8 119.8 1590.8 108.9 1591.8 92.8 1592.8 82.3 1593.8 75.1 1594.8 67.9 1595.8 60.5 1596.8 54.1 1597.8 50.3 1598.8 48.0 1599.8 50.8 1600.8 50.2 1601.8 56.1 1602.8 54.3 1603.8 56.9 1604.8 55.2 1605.8 59.1 1606.8 52.8 1607.8 57.9 1608.8 57.3 1609.8 59.8 1610.8 61.2 1611.8 59.6 1612.8 61.5 1613.8 65.1 1614.8 64.6 1615.8 63.6 1616.8 66.7 1617.8 61.2 1618.8 71.7 1619.8 71.7 1620.8 70.5 1621.8 71.0 1622.8 73.3 1623.8 74.0 1624.8 76.1 1625.8 75.6 1626.8 77.8 1627.8 80.5 1628.8 77.8 1629.8 80.5 1630.8 81.2 1631.8 84.8 1632.8 76.5 1633.8 84.9 1634.8 78.4 1635.8 80.8 1636.8 80.2 1637.8 85.1 1638.8 87.6 1639.8 85.8 1640.8 87.9 1641.8 88.9 1642.8 90.0 1643.8 88.9 1644.8 88.5 1645.8 87.6 1646.8 92.2 1647.8 93.5 1648.8 91.9 1649.8 94.3 1650.8 91.3 1651.8 95.2 1652.8 93.6 1653.8 95.2 1654.8 95.4 1655.8 94.8 1656.8 94.7 1657.8 92.3 1658.8 96.1 1659.8 93.8 1660.8 90.1 1661.8 85.3 1662.8 91.7 1663.8 93.9 1664.8 93.3 1665.8 94.0 1666.8 96.0 1667.8 96.3 1668.8 90.6 1669.8 94.8 1670.8 92.9 1671.8 93.8 1672.8 92.0 1673.8 96.9 1674.8 91.4 1675.8 94.2 1676.8 97.3 1677.8 92.2 1678.8 97.0 1679.8 92.7 1680.8 94.3 1681.8 92.6 1682.8 89.5 1683.8 93.7 1684.8 91.5 1685.8 93.7 1686.8 93.4 1687.8 88.7 1688.8 92.3 1689.8 84.5 1690.8 89.1 1691.8 88.5 1692.8 84.6 1693.8 82.0 1694.8 88.4 1695.8 86.8 1696.8 86.6 1697.8 87.6 1698.8 85.1 1699.8 84.8 1700.8 83.1 1701.8 84.1 1702.8 85.0 1703.8 81.1 1704.8 80.4 1705.8 79.9 1706.8 77.6 1707.8 79.8 1708.8 77.7 1708.8 89.2 1707.8 93.7 1706.8 92.5 1705.8 92.1 1704.8 90.3 1703.8 95.0 1702.8 94.1 1701.8 93.3 1700.8 92.7 1699.8 93.6 1698.8 94.5 1697.8 94.8 1696.8 97.4 1695.8 96.1 1694.8 96.9 1693.8 96.8 1692.8 96.3 1691.8 99.2 1690.8 98.7 1689.8 98.2 1688.8 102.4 1687.8 99.5 1686.8 102.7 1685.8 103.6 1684.8 102.6 1683.8 103.8 1682.8 100.7 1681.8 100.9 1680.8 102.2 1679.8 105.9 1678.8 103.6 1677.8 101.8 1676.8 106.4 1675.8 101.3 1674.8 99.8 1673.8 104.1 1672.8 101.1 1671.8 106.9 1670.8 104.7 1669.8 107.3 1668.8 99.9 1667.8 104.9 1666.8 105.5 1665.8 101.9 1664.8 105.3 1663.8 102.9 1662.8 99.6 1661.8 103.1 1660.8 98.3 1659.8 103.2 1658.8 105.2 1657.8 100.0 1656.8 104.9 1655.8 103.3 1654.8 103.1 1653.8 102.3 1652.8 101.8 1651.8 105.4 1650.8 104.6 1649.8 103.4 1648.8 100.5 1647.8 103.8 1646.8 98.9 1645.8 99.2 1644.8 97.8 1643.8 99.7 1642.8 100.3 1641.8 99.1 1640.8 98.9 1639.8 96.2 1638.8 95.0 1637.8 98.4 1636.8 94.0 1635.8 95.6 1634.8 94.4 1633.8 95.1 1632.8 87.6 1631.8 94.8 1630.8 90.5 1629.8 91.2 1628.8 91.9 1627.8 88.5 1626.8 86.7 1625.8 85.2 1624.8 83.9 1623.8 84.2 1622.8 84.2 1621.8 81.7 1620.8 80.4 1619.8 79.5 1618.8 78.9 1617.8 75.1 1616.8 75.6 1615.8 74.5 1614.8 73.0 1613.8 75.2 1612.8 70.9 1611.8 70.4 1610.8 70.3 1609.8 71.1 1608.8 72.4 1607.8 68.5 1606.8 63.8 1605.8 66.0 1604.8 68.4 1603.8 64.1 1602.8 62.9 1601.8 67.2 1600.8 64.7 1599.8 60.2 1598.8 59.1 1597.8 63.9 1596.8 65.1 1595.8 63.4 1594.8 70.4 1593.8 78.0 1592.8 84.9 1591.8 95.6 1590.8 111.9 1589.8 125.0 1588.8 126.1 1587.8 126.2 1586.8 125.1 1585.8 126.1 1584.8 130.8 1583.8 125.6 1582.8 124.6 1581.8 127.7 1580.8 129.8 1579.8 129.5 1578.8 127.9 1577.8 126.8 1576.8 127.4 1575.8 126.1 1574.8 128.3 1573.8 127.8 1572.8 129.7 1571.8 129.5 1570.8 129.1 1569.8 131.1 1568.8 129.2 1567.8 132.3 1566.8 127.8 1565.8 128.7 1564.8 129.8 1563.8 129.6 1562.8 128.8 1561.8 130.3 1560.8 130.7 1559.8 130.7 1558.8 131.0 1557.8 130.5 1556.8 131.8 1555.8 136.4 1554.8 129.7 1553.8 132.7 1552.8 134.0 1551.8 130.0 1550.8 134.0 1549.8 131.1 1548.8 133.3 1547.8 132.5 1546.8 131.5 1545.8 133.6 1544.8 134.5 1543.8 137.0 1542.8 134.5 1541.8 131.6 1540.8 132.5 1539.8 132.6 1538.8 133.8 1537.8 130.9 1536.8 132.6Z" fill="#000" stroke="#000" stroke-width="0.5" stroke-linejoin="round"/>
<line x1="1205.3" y1="68" x2="1205.3" y2="99" stroke="#000" stroke-width="1.8"/>
<path d="M1205.3 112 L1195.3 91 L1205.3 97 L1215.3 91 Z" fill="#000"/>
<line x1="1372.8" y1="68" x2="1372.8" y2="99" stroke="#000" stroke-width="1.8"/>
<path d="M1372.8 112 L1362.8 91 L1372.8 97 L1382.8 91 Z" fill="#000"/>
<line x1="1580.7" y1="68" x2="1580.7" y2="99" stroke="#000" stroke-width="1.8"/>
<path d="M1580.7 112 L1570.7 91 L1580.7 97 L1590.7 91 Z" fill="#000"/>
<line x1="1219.4" y1="248.5" x2="1609.6" y2="252.6" stroke="#000" stroke-width="2.5" stroke-dasharray="10.1 7.4"/>
<text transform="translate(1414.7 247.9)" font-size="23" letter-spacing="1.95" text-anchor="middle" stroke="#000" stroke-width="0.4">***</text>
<rect x="1093.8" y="203" width="4.2" height="336" fill="#000"/>
<rect x="1078" y="203.2" width="16" height="3.6" fill="#000"/>
<rect x="1078" y="286.1" width="16" height="3.6" fill="#000"/>
<rect x="1078" y="369.4" width="16" height="3.6" fill="#000"/>
<rect x="1078" y="453.1" width="16" height="3.6" fill="#000"/>
<rect x="1222.9" y="537" width="4.2" height="14.5" fill="#000"/>
<rect x="1416.9" y="537" width="4.2" height="14.5" fill="#000"/>
<rect x="1610.5" y="537" width="4.2" height="14.5" fill="#000"/>
<text transform="translate(1067 218.7) scale(1.0 1.04)" font-size="31.5" font-weight="bold" text-anchor="end">0.4</text>
<text transform="translate(1072 301.5) scale(1.0 1.04)" font-size="31.5" font-weight="bold" text-anchor="end">0.3</text>
<text transform="translate(1072.5 383.3) scale(1.0 1.04)" font-size="31.5" font-weight="bold" text-anchor="end">0.2</text>
<text transform="translate(1071.5 465.3) scale(1.0 1.04)" font-size="31.5" font-weight="bold" text-anchor="end">0.1</text>
<text transform="translate(1077.3 552.3) scale(1.0 1.04)" font-size="31.5" font-weight="bold" text-anchor="end">0.0</text>
<text transform="translate(937.8 365) rotate(-90)" font-size="31.4" font-weight="bold" text-anchor="middle">Fluorescence intensity</text>
<text transform="translate(975.6 367) rotate(-90)" font-size="31.4" font-weight="bold" text-anchor="middle">changes</text>
<text transform="translate(1012.8 366) rotate(-90) scale(1 1.0)" font-size="32" font-weight="bold" text-anchor="middle">(ΔF<tspan font-size="20.5" dy="7.5">340/380</tspan><tspan dy="-7.5">)</tspan></text>
<rect x="1163.75" y="430.9" width="122.9" height="106.1" fill="#fff"/>
<rect x="1160.7" y="428.1" width="6.1" height="108.9" fill="#000"/>
<rect x="1283.6" y="428.1" width="6.1" height="108.9" fill="#000"/>
<rect x="1160.7" y="428.1" width="129" height="5.6" fill="#000"/>
<rect x="1358" y="470" width="122.5" height="67" fill="#bcdfb0"/>
<g clip-path="url(#cpH)" stroke="#262626" stroke-width="5.8">
<line x1="1093.1" y1="420.75" x2="1293.1" y2="574.15"/>
<line x1="1114.6" y1="420.75" x2="1314.6" y2="574.15"/>
<line x1="1136.1" y1="420.75" x2="1336.1" y2="574.15"/>
<line x1="1157.6" y1="420.75" x2="1357.6" y2="574.15"/>
<line x1="1179.1" y1="420.75" x2="1379.1" y2="574.15"/>
<line x1="1200.6" y1="420.75" x2="1400.6" y2="574.15"/>
<line x1="1222.1" y1="420.75" x2="1422.1" y2="574.15"/>
<line x1="1243.6" y1="420.75" x2="1443.6" y2="574.15"/>
<line x1="1265.1" y1="420.75" x2="1465.1" y2="574.15"/>
<line x1="1286.6" y1="420.75" x2="1486.6" y2="574.15"/>
<line x1="1308.1" y1="420.75" x2="1508.1" y2="574.15"/>
<line x1="1329.6" y1="420.75" x2="1529.6" y2="574.15"/>
<line x1="1351.1" y1="420.75" x2="1551.1" y2="574.15"/>
<line x1="1372.6" y1="420.75" x2="1572.6" y2="574.15"/>
</g>
<rect x="1354.2" y="467.2" width="6.6" height="69.8" fill="#000"/>
<rect x="1477.1" y="467.2" width="6.6" height="69.8" fill="#000"/>
<rect x="1354.2" y="467.2" width="129.5" height="5.2" fill="#000"/>
<rect x="1551.35" y="308" width="122.9" height="229" fill="#a1a1a3"/>
<rect x="1548.2" y="305.1" width="6.3" height="231.9" fill="#000"/>
<rect x="1671.1" y="305.1" width="6.3" height="231.9" fill="#000"/>
<rect x="1548.2" y="305.1" width="129.2" height="5.8" fill="#000"/>
<text transform="translate(1223.5 382) scale(1.0 1.04)" font-size="31.7" text-anchor="middle">n=22</text>
<text transform="translate(1421 422.5) scale(1.0 1.04)" font-size="31.7" text-anchor="middle">n=23</text>
<text transform="translate(1612.5 286) scale(1.0 1.04)" font-size="31.7" text-anchor="middle">n=20</text>
<text transform="translate(1223.7 581.5) scale(1.0 1.04)" font-size="32.4" font-weight="bold" text-anchor="middle">GM</text>
<text transform="translate(1422 580) scale(1.0 1.04)" font-size="31.8" font-weight="bold" text-anchor="middle">GM+SKF</text>
<text transform="translate(1616.7 582) scale(1.0 1.04)" font-size="31.8" font-weight="bold" text-anchor="middle">OM</text>
<text transform="translate(1427.6 616)" font-size="34.6" font-weight="bold" text-anchor="middle">Hypoosmotic shock</text>
<g fill="#000">
<ellipse cx="1170.1" cy="421.2" rx="4.8" ry="4"/>
<ellipse cx="1188.4" cy="416.7" rx="4.8" ry="4"/>
<ellipse cx="1188.4" cy="422.4" rx="4.8" ry="4"/>
<ellipse cx="1206.5" cy="419.4" rx="4.8" ry="4"/>
<ellipse cx="1206.5" cy="425.8" rx="4.8" ry="4"/>
<ellipse cx="1225.1" cy="405.9" rx="4.8" ry="4"/>
<ellipse cx="1225.1" cy="413.7" rx="4.8" ry="4"/>
<ellipse cx="1225.1" cy="429.3" rx="4.8" ry="4"/>
<ellipse cx="1243.4" cy="412.8" rx="4.8" ry="4"/>
<ellipse cx="1243.4" cy="421.9" rx="4.8" ry="4"/>
<ellipse cx="1243.4" cy="432.2" rx="4.8" ry="4"/>
<ellipse cx="1261.7" cy="416.7" rx="4.8" ry="4"/>
<ellipse cx="1261.7" cy="425.8" rx="4.8" ry="4"/>
<ellipse cx="1261.7" cy="436.1" rx="4.8" ry="4"/>
<ellipse cx="1280.1" cy="422.4" rx="4.8" ry="4"/>
<ellipse cx="1188.4" cy="440.3" rx="4.8" ry="4"/>
<ellipse cx="1197.6" cy="442.5" rx="4.8" ry="4"/>
<ellipse cx="1206.5" cy="440.0" rx="4.8" ry="4"/>
<ellipse cx="1215.7" cy="448.0" rx="4.8" ry="4"/>
<ellipse cx="1234.2" cy="449.9" rx="4.8" ry="4"/>
<ellipse cx="1252.6" cy="449.9" rx="4.8" ry="4"/>
<ellipse cx="1404.7" cy="430.4" rx="4.8" ry="4"/>
<ellipse cx="1419.1" cy="436.1" rx="4.8" ry="4"/>
<ellipse cx="1433.3" cy="439.6" rx="4.8" ry="4"/>
<ellipse cx="1411.6" cy="453.3" rx="4.8" ry="4"/>
<ellipse cx="1426.0" cy="452.4" rx="4.8" ry="4"/>
<ellipse cx="1397.4" cy="460.2" rx="4.8" ry="4"/>
<ellipse cx="1440.7" cy="456.3" rx="4.8" ry="4"/>
<ellipse cx="1368.7" cy="464.8" rx="4.8" ry="4"/>
<ellipse cx="1382.9" cy="468.2" rx="4.8" ry="4"/>
<ellipse cx="1411.6" cy="472.8" rx="4.8" ry="4"/>
<ellipse cx="1419.1" cy="473.9" rx="4.8" ry="4"/>
<ellipse cx="1426.0" cy="473.9" rx="4.8" ry="4"/>
<ellipse cx="1455.1" cy="472.8" rx="4.8" ry="4"/>
<ellipse cx="1468.8" cy="472.8" rx="4.8" ry="4"/>
<ellipse cx="1361.9" cy="480.1" rx="4.8" ry="4"/>
<ellipse cx="1376.1" cy="481.5" rx="4.8" ry="4"/>
<ellipse cx="1390.3" cy="481.3" rx="4.8" ry="4"/>
<ellipse cx="1404.7" cy="479.0" rx="4.8" ry="4"/>
<ellipse cx="1433.3" cy="478.5" rx="4.8" ry="4"/>
<ellipse cx="1462.0" cy="479.2" rx="4.8" ry="4"/>
<ellipse cx="1447.5" cy="483.6" rx="4.8" ry="4"/>
<ellipse cx="1475.7" cy="484.2" rx="4.8" ry="4"/>
<ellipse cx="1419.1" cy="478.5" rx="4.8" ry="4"/>
<ellipse cx="1553.2" cy="299.2" rx="4.6" ry="3.8"/>
<ellipse cx="1561.7" cy="300.3" rx="4.6" ry="3.8"/>
<ellipse cx="1570.6" cy="302.1" rx="4.6" ry="3.8"/>
<ellipse cx="1579.1" cy="304.4" rx="4.6" ry="3.8"/>
<ellipse cx="1587.6" cy="296.6" rx="4.6" ry="3.8"/>
<ellipse cx="1595.7" cy="308.1" rx="4.6" ry="3.8"/>
<ellipse cx="1603.9" cy="308.8" rx="4.6" ry="3.8"/>
<ellipse cx="1612.4" cy="310.6" rx="4.6" ry="3.8"/>
<ellipse cx="1620.9" cy="313.2" rx="4.6" ry="3.8"/>
<ellipse cx="1629.8" cy="317.3" rx="4.6" ry="3.8"/>
<ellipse cx="1638.3" cy="298.4" rx="4.6" ry="3.8"/>
<ellipse cx="1621.6" cy="305.8" rx="4.6" ry="3.8"/>
<ellipse cx="1646.8" cy="304.4" rx="4.6" ry="3.8"/>
<ellipse cx="1654.9" cy="304.4" rx="4.6" ry="3.8"/>
<ellipse cx="1664.2" cy="304.4" rx="4.6" ry="3.8"/>
<ellipse cx="1672.7" cy="305.8" rx="4.6" ry="3.8"/>
<ellipse cx="1587.6" cy="305.1" rx="4.6" ry="3.8"/>
<ellipse cx="1595.7" cy="304.4" rx="4.6" ry="3.8"/>
<ellipse cx="1612.4" cy="305.1" rx="4.6" ry="3.8"/>
<ellipse cx="1603.9" cy="304.4" rx="4.6" ry="3.8"/>
</g>
<line x1="1225" y1="416" x2="1225" y2="440.7" stroke="#000" stroke-width="1.7"/>
<line x1="1191.6" y1="416" x2="1258" y2="416" stroke="#000" stroke-width="1.7"/>
<line x1="1191.6" y1="440.7" x2="1258" y2="440.7" stroke="#000" stroke-width="1.7"/>
<line x1="1419" y1="451.9" x2="1419" y2="483.1" stroke="#000" stroke-width="1.7"/>
<line x1="1386.9" y1="451.9" x2="1451.1" y2="451.9" stroke="#000" stroke-width="1.7"/>
<line x1="1393.2" y1="483.1" x2="1443.6" y2="483.1" stroke="#000" stroke-width="1.7"/>
<line x1="1612.5" y1="299.5" x2="1612.5" y2="310" stroke="#000" stroke-width="1.7"/>
<line x1="1581" y1="299.5" x2="1644" y2="299.5" stroke="#000" stroke-width="1.7"/>
<line x1="1581" y1="310" x2="1644" y2="310" stroke="#000" stroke-width="1.7"/>
<rect x="1078" y="535.8" width="666" height="3.6" fill="#000"/>
<text transform="translate(375.3 728.8) scale(1.0 1.07)" font-size="41" font-weight="bold" text-anchor="start">C</text>
<text transform="translate(413.8 786) scale(1 1.01)" font-size="43.7">(F<tspan font-size="27" dy="9.8">340/380</tspan><tspan dy="-9.8">)</tspan></text>
<text transform="translate(450.3 856.3) scale(1.0 1.04)" font-size="31.4" text-anchor="start">0.2</text>
<rect x="503.7" y="814.3" width="5" height="43.5" fill="#000"/>
<rect x="539.7" y="855.7" width="61.7" height="5" fill="#000"/>
<text transform="translate(536.3 897.4) scale(1.0 1.06)" font-size="31.2" text-anchor="start">200 s</text>
<path d="M673.0 852.9 674.0 854.3 675.0 853.9 676.0 854.9 677.0 855.0 678.0 855.3 679.0 855.2 680.0 854.4 681.0 852.8 682.0 853.7 683.0 856.3 684.0 856.8 685.0 856.5 686.0 855.9 687.0 855.8 688.0 856.3 689.0 854.1 690.0 855.7 691.0 856.1 692.0 856.1 693.0 854.6 694.0 857.8 695.0 856.1 696.0 855.7 697.0 855.8 698.0 853.7 699.0 857.3 700.0 858.0 701.0 855.8 702.0 856.6 703.0 856.9 704.0 857.1 705.0 857.8 706.0 856.0 707.0 857.7 708.0 854.9 709.0 857.8 710.0 856.9 711.0 856.0 712.0 855.9 713.0 857.1 714.0 855.3 715.0 858.4 716.0 857.6 717.0 857.8 718.0 858.0 719.0 856.3 720.0 859.1 721.0 854.1 722.0 856.9 723.0 857.8 724.0 855.7 725.0 855.4 726.0 858.5 727.0 855.7 728.0 856.1 729.0 856.9 730.0 855.8 731.0 856.9 732.0 858.1 733.0 857.9 734.0 857.2 735.0 856.1 736.0 857.8 737.0 857.1 738.0 856.4 739.0 857.6 740.0 856.1 741.0 857.2 742.0 857.5 743.0 854.4 744.0 854.3 745.0 854.1 746.0 853.5 747.0 855.0 748.0 854.6 749.0 854.3 750.0 852.8 751.0 850.2 752.0 849.5 753.0 851.0 754.0 847.3 755.0 848.6 756.0 849.2 757.0 848.3 758.0 848.7 759.0 846.6 760.0 846.5 761.0 848.1 762.0 849.2 763.0 850.2 764.0 850.1 765.0 851.3 766.0 850.9 767.0 852.3 768.0 854.7 769.0 853.3 770.0 853.7 771.0 855.6 772.0 855.8 773.0 855.8 774.0 857.9 775.0 857.7 776.0 857.5 777.0 855.1 778.0 855.5 779.0 855.5 780.0 857.3 781.0 856.1 782.0 858.2 783.0 857.8 784.0 858.1 785.0 857.1 786.0 858.2 787.0 858.8 788.0 857.8 789.0 856.3 790.0 859.4 791.0 857.5 792.0 857.2 793.0 857.4 794.0 855.8 795.0 858.7 796.0 859.5 797.0 857.3 798.0 859.8 799.0 859.2 800.0 856.8 801.0 859.7 802.0 858.8 803.0 858.2 804.0 859.8 805.0 857.4 806.0 858.1 807.0 859.6 808.0 857.2 809.0 856.1 810.0 859.6 811.0 857.4 812.0 857.2 813.0 858.1 814.0 859.3 815.0 857.7 816.0 859.7 817.0 857.4 818.0 857.5 819.0 857.0 820.0 858.6 821.0 859.4 822.0 858.0 823.0 857.8 824.0 857.9 825.0 858.7 826.0 858.8 826.0 864.8 825.0 865.7 824.0 862.1 823.0 863.3 822.0 863.0 821.0 863.0 820.0 862.5 819.0 864.5 818.0 863.8 817.0 863.9 816.0 864.0 815.0 863.0 814.0 863.2 813.0 864.4 812.0 863.5 811.0 862.4 810.0 863.4 809.0 862.3 808.0 864.1 807.0 863.8 806.0 863.4 805.0 865.7 804.0 866.5 803.0 862.6 802.0 863.3 801.0 863.4 800.0 862.6 799.0 862.6 798.0 867.2 797.0 863.9 796.0 864.6 795.0 862.9 794.0 863.8 793.0 863.0 792.0 862.6 791.0 862.2 790.0 863.0 789.0 862.2 788.0 862.2 787.0 863.7 786.0 862.4 785.0 862.0 784.0 861.9 783.0 861.4 782.0 862.8 781.0 861.6 780.0 863.4 779.0 860.6 778.0 860.9 777.0 861.9 776.0 863.0 775.0 860.9 774.0 862.5 773.0 862.6 772.0 860.3 771.0 860.4 770.0 858.1 769.0 858.0 768.0 859.0 767.0 856.9 766.0 855.6 765.0 854.9 764.0 853.3 763.0 854.2 762.0 852.6 761.0 853.6 760.0 851.8 759.0 851.2 758.0 851.9 757.0 852.9 756.0 855.1 755.0 854.5 754.0 856.0 753.0 856.6 752.0 855.0 751.0 854.9 750.0 858.6 749.0 859.2 748.0 858.1 747.0 859.4 746.0 859.6 745.0 858.4 744.0 860.2 743.0 859.1 742.0 860.6 741.0 861.0 740.0 860.0 739.0 862.3 738.0 860.0 737.0 866.5 736.0 866.5 735.0 863.0 734.0 861.4 733.0 861.1 732.0 864.1 731.0 863.6 730.0 861.3 729.0 860.8 728.0 861.8 727.0 860.8 726.0 861.9 725.0 861.3 724.0 862.0 723.0 862.8 722.0 862.2 721.0 862.0 720.0 864.0 719.0 863.2 718.0 862.7 717.0 861.9 716.0 861.7 715.0 862.2 714.0 860.3 713.0 860.5 712.0 860.8 711.0 862.2 710.0 860.3 709.0 861.5 708.0 860.5 707.0 861.5 706.0 861.5 705.0 863.6 704.0 862.5 703.0 861.5 702.0 861.8 701.0 862.0 700.0 864.4 699.0 864.6 698.0 858.7 697.0 861.8 696.0 860.1 695.0 860.1 694.0 862.2 693.0 858.4 692.0 861.2 691.0 863.4 690.0 860.7 689.0 861.0 688.0 860.2 687.0 863.2 686.0 860.2 685.0 859.7 684.0 860.5 683.0 861.5 682.0 858.0 681.0 859.7 680.0 861.0 679.0 860.3 678.0 859.8 677.0 860.2 676.0 859.7 675.0 859.1 674.0 859.5 673.0 860.3Z" fill="#000" stroke="#000" stroke-width="0.5" stroke-linejoin="round"/>
<path d="M840.4 860.5 841.4 857.6 842.4 861.7 843.4 860.0 844.4 861.7 845.4 859.8 846.4 857.8 847.4 860.7 848.4 860.2 849.4 857.0 850.4 861.9 851.4 860.3 852.4 861.2 853.4 858.2 854.4 862.2 855.4 855.1 856.4 861.0 857.4 859.8 858.4 858.3 859.4 857.5 860.4 860.8 861.4 861.1 862.4 862.3 863.4 859.2 864.4 857.6 865.4 862.0 866.4 860.0 867.4 861.3 868.4 860.4 869.4 857.9 870.4 860.8 871.4 861.3 872.4 860.7 873.4 859.9 874.4 858.7 875.4 859.4 876.4 861.9 877.4 859.0 878.4 860.3 879.4 861.0 880.4 861.5 881.4 859.1 882.4 862.0 883.4 862.1 884.4 860.3 885.4 860.8 886.4 858.0 887.4 862.0 888.4 859.6 889.4 860.2 890.4 859.7 891.4 858.5 892.4 859.1 893.4 860.8 894.4 859.6 895.4 859.1 896.4 859.2 897.4 860.4 898.4 858.7 899.4 860.0 900.4 860.1 901.4 859.7 902.4 862.7 903.4 861.3 904.4 859.0 905.4 857.0 906.4 860.5 907.4 858.2 908.4 859.3 909.4 857.0 910.4 855.1 911.4 860.0 912.4 859.3 913.4 859.0 914.4 858.8 915.4 859.8 916.4 858.8 917.4 856.8 918.4 854.7 919.4 858.3 920.4 860.2 921.4 858.8 922.4 857.7 923.4 858.9 924.4 858.0 925.4 857.2 926.4 859.9 927.4 858.3 928.4 856.4 929.4 858.1 930.4 859.8 931.4 855.2 932.4 856.4 933.4 857.4 934.4 857.8 935.4 858.1 936.4 857.3 937.4 859.0 938.4 858.9 939.4 859.9 940.4 856.9 941.4 859.0 942.4 858.7 943.4 855.1 944.4 858.1 945.4 860.0 946.4 860.6 947.4 858.7 948.4 861.5 949.4 857.6 950.4 860.1 951.4 858.6 952.4 858.5 953.4 860.1 954.4 859.7 955.4 860.4 956.4 860.0 957.4 859.3 958.4 859.4 959.4 861.7 960.4 860.2 961.4 859.1 962.4 860.3 963.4 858.5 964.4 856.8 965.4 860.8 966.4 860.6 967.4 859.1 968.4 862.1 969.4 857.7 970.4 861.6 971.4 859.3 972.4 859.2 973.4 860.8 974.4 858.3 975.4 860.6 976.4 859.2 977.4 860.6 978.4 860.8 979.4 859.6 980.4 859.4 981.4 859.6 982.4 860.7 983.4 862.2 984.4 857.0 985.4 860.0 986.4 861.5 987.4 856.3 988.4 859.7 989.4 861.9 990.4 862.0 990.4 866.8 989.4 866.4 988.4 866.7 987.4 865.6 986.4 866.7 985.4 865.6 984.4 863.8 983.4 866.1 982.4 865.0 981.4 863.6 980.4 864.0 979.4 868.9 978.4 866.2 977.4 864.8 976.4 865.7 975.4 866.9 974.4 863.3 973.4 865.4 972.4 865.0 971.4 865.2 970.4 865.4 969.4 865.2 968.4 868.8 967.4 867.4 966.4 864.5 965.4 864.6 964.4 863.5 963.4 865.4 962.4 864.2 961.4 868.6 960.4 864.8 959.4 866.3 958.4 863.3 957.4 862.8 956.4 863.6 955.4 867.7 954.4 865.2 953.4 867.0 952.4 862.7 951.4 863.6 950.4 865.6 949.4 866.1 948.4 865.7 947.4 867.0 946.4 864.5 945.4 865.3 944.4 865.5 943.4 863.7 942.4 862.6 941.4 864.9 940.4 863.2 939.4 863.7 938.4 864.0 937.4 863.1 936.4 862.8 935.4 864.0 934.4 864.9 933.4 862.3 932.4 863.7 931.4 860.9 930.4 864.3 929.4 865.4 928.4 863.2 927.4 863.7 926.4 863.9 925.4 864.2 924.4 863.6 923.4 863.9 922.4 863.1 921.4 864.7 920.4 864.2 919.4 865.0 918.4 862.9 917.4 862.6 916.4 863.8 915.4 863.1 914.4 865.8 913.4 863.2 912.4 864.0 911.4 864.6 910.4 864.3 909.4 863.9 908.4 868.8 907.4 865.4 906.4 866.6 905.4 865.3 904.4 863.8 903.4 867.9 902.4 866.7 901.4 866.8 900.4 865.4 899.4 865.8 898.4 865.4 897.4 864.8 896.4 866.0 895.4 864.4 894.4 866.4 893.4 866.3 892.4 864.6 891.4 864.1 890.4 863.0 889.4 867.4 888.4 866.1 887.4 866.2 886.4 864.2 885.4 864.1 884.4 867.4 883.4 866.3 882.4 868.0 881.4 865.3 880.4 867.6 879.4 873.7 878.4 873.7 877.4 867.5 876.4 865.2 875.4 866.2 874.4 866.9 873.4 865.8 872.4 865.4 871.4 864.7 870.4 868.0 869.4 861.8 868.4 866.5 867.4 865.4 866.4 866.0 865.4 868.0 864.4 867.0 863.4 865.6 862.4 869.8 861.4 865.6 860.4 864.9 859.4 864.6 858.4 863.4 857.4 866.8 856.4 866.9 855.4 863.0 854.4 868.6 853.4 865.8 852.4 865.7 851.4 865.8 850.4 867.0 849.4 863.2 848.4 864.1 847.4 865.7 846.4 864.2 845.4 866.2 844.4 865.5 843.4 867.9 842.4 867.2 841.4 864.7 840.4 864.5Z" fill="#000" stroke="#000" stroke-width="0.5" stroke-linejoin="round"/>
<path d="M1019.0 857.6 1020.0 860.5 1021.0 858.9 1022.0 860.9 1023.0 857.9 1024.0 861.8 1025.0 859.0 1026.0 858.3 1027.0 858.1 1028.0 858.4 1029.0 856.8 1030.0 856.3 1031.0 857.1 1032.0 860.8 1033.0 860.3 1034.0 860.0 1035.0 859.3 1036.0 860.0 1037.0 860.3 1038.0 859.1 1039.0 860.7 1040.0 861.0 1041.0 860.2 1042.0 858.6 1043.0 858.6 1044.0 859.8 1045.0 858.8 1046.0 860.3 1047.0 860.0 1048.0 861.0 1049.0 857.3 1050.0 857.3 1051.0 859.4 1052.0 858.7 1053.0 859.5 1054.0 859.2 1055.0 848.8 1056.0 848.8 1057.0 859.9 1058.0 859.2 1059.0 859.3 1060.0 860.1 1061.0 859.3 1062.0 858.2 1063.0 860.7 1064.0 858.9 1065.0 860.4 1066.0 857.2 1067.0 859.1 1068.0 858.4 1069.0 859.1 1070.0 860.8 1071.0 858.5 1072.0 858.3 1073.0 856.7 1074.0 855.9 1075.0 856.3 1076.0 853.7 1077.0 851.1 1078.0 853.9 1079.0 853.2 1080.0 852.6 1081.0 851.7 1082.0 850.8 1083.0 850.5 1084.0 850.0 1085.0 849.9 1086.0 846.6 1087.0 848.2 1088.0 850.0 1089.0 849.7 1090.0 849.2 1091.0 848.6 1092.0 849.3 1093.0 849.3 1094.0 849.0 1095.0 849.3 1096.0 850.3 1097.0 838.4 1098.0 825.0 1099.0 819.1 1100.0 817.8 1101.0 822.6 1102.0 822.0 1103.0 819.1 1104.0 822.9 1105.0 825.2 1106.0 824.0 1107.0 823.8 1108.0 823.5 1109.0 823.8 1110.0 826.4 1111.0 825.0 1112.0 827.8 1113.0 827.5 1114.0 827.0 1115.0 828.6 1116.0 830.4 1117.0 829.9 1118.0 828.6 1119.0 832.2 1120.0 833.9 1121.0 834.5 1122.0 838.4 1123.0 837.1 1124.0 836.7 1125.0 838.8 1126.0 838.4 1127.0 837.7 1128.0 841.0 1129.0 841.0 1130.0 846.5 1131.0 842.6 1132.0 844.2 1133.0 844.5 1134.0 844.9 1135.0 846.1 1136.0 844.7 1137.0 847.6 1138.0 847.2 1139.0 850.4 1140.0 850.7 1141.0 851.2 1142.0 851.3 1143.0 852.6 1144.0 851.8 1145.0 852.2 1146.0 854.0 1147.0 853.5 1148.0 853.5 1149.0 851.2 1150.0 854.4 1151.0 852.1 1152.0 851.7 1153.0 853.6 1154.0 855.3 1155.0 855.6 1156.0 854.4 1157.0 856.6 1158.0 854.9 1159.0 857.3 1160.0 854.5 1161.0 853.5 1162.0 857.2 1163.0 854.2 1164.0 854.3 1165.0 852.9 1166.0 855.7 1167.0 857.6 1168.0 858.3 1169.0 855.0 1170.0 855.6 1170.0 860.3 1169.0 862.2 1168.0 862.4 1167.0 862.3 1166.0 861.3 1165.0 860.7 1164.0 859.8 1163.0 862.2 1162.0 862.8 1161.0 859.7 1160.0 859.6 1159.0 860.9 1158.0 858.8 1157.0 860.4 1156.0 861.7 1155.0 859.6 1154.0 859.7 1153.0 858.9 1152.0 857.5 1151.0 857.6 1150.0 858.1 1149.0 861.5 1148.0 862.8 1147.0 858.3 1146.0 858.1 1145.0 856.7 1144.0 856.2 1143.0 857.1 1142.0 858.3 1141.0 857.9 1140.0 856.3 1139.0 855.9 1138.0 853.8 1137.0 854.3 1136.0 854.8 1135.0 851.8 1134.0 851.0 1133.0 850.1 1132.0 849.6 1131.0 848.1 1130.0 852.6 1129.0 847.3 1128.0 848.9 1127.0 844.4 1126.0 844.9 1125.0 843.6 1124.0 843.0 1123.0 841.6 1122.0 845.0 1121.0 840.5 1120.0 841.2 1119.0 836.9 1118.0 835.2 1117.0 837.1 1116.0 837.6 1115.0 837.6 1114.0 831.9 1113.0 832.8 1112.0 833.4 1111.0 831.4 1110.0 834.7 1109.0 831.0 1108.0 831.1 1107.0 830.3 1106.0 829.9 1105.0 830.2 1104.0 831.4 1103.0 827.3 1102.0 828.2 1101.0 832.0 1100.0 827.6 1099.0 828.2 1098.0 834.4 1097.0 842.2 1096.0 854.2 1095.0 854.3 1094.0 853.6 1093.0 855.0 1092.0 854.1 1091.0 854.3 1090.0 853.5 1089.0 854.2 1088.0 853.4 1087.0 853.0 1086.0 851.8 1085.0 854.4 1084.0 855.2 1083.0 854.6 1082.0 856.4 1081.0 855.4 1080.0 857.4 1079.0 858.8 1078.0 859.2 1077.0 858.5 1076.0 858.8 1075.0 860.9 1074.0 860.4 1073.0 863.6 1072.0 863.4 1071.0 863.5 1070.0 864.4 1069.0 863.6 1068.0 862.9 1067.0 864.3 1066.0 863.5 1065.0 867.2 1064.0 864.8 1063.0 865.8 1062.0 863.7 1061.0 864.3 1060.0 865.6 1059.0 864.1 1058.0 865.4 1057.0 865.4 1056.0 863.7 1055.0 865.8 1054.0 863.7 1053.0 863.9 1052.0 863.7 1051.0 866.6 1050.0 863.1 1049.0 863.5 1048.0 865.4 1047.0 864.0 1046.0 864.0 1045.0 864.0 1044.0 863.6 1043.0 863.2 1042.0 865.8 1041.0 865.4 1040.0 864.1 1039.0 865.0 1038.0 865.7 1037.0 864.8 1036.0 864.6 1035.0 864.0 1034.0 867.3 1033.0 864.3 1032.0 865.2 1031.0 862.1 1030.0 862.7 1029.0 863.4 1028.0 864.3 1027.0 862.7 1026.0 863.1 1025.0 865.0 1024.0 867.3 1023.0 863.2 1022.0 865.0 1021.0 863.1 1020.0 864.3 1019.0 865.0Z" fill="#000" stroke="#000" stroke-width="0.5" stroke-linejoin="round"/>
<path d="M1197.4 855.7 1198.4 860.0 1199.4 859.5 1200.4 857.6 1201.4 856.1 1202.4 859.1 1203.4 857.9 1204.4 860.5 1205.4 859.8 1206.4 856.4 1207.4 859.4 1208.4 857.9 1209.4 856.4 1210.4 856.7 1211.4 859.6 1212.4 855.4 1213.4 858.6 1214.4 858.0 1215.4 858.4 1216.4 858.0 1217.4 860.7 1218.4 857.9 1219.4 857.7 1220.4 856.2 1221.4 856.3 1222.4 858.9 1223.4 858.4 1224.4 859.0 1225.4 858.3 1226.4 857.9 1227.4 858.6 1228.4 858.3 1229.4 858.5 1230.4 856.0 1231.4 857.9 1232.4 858.7 1233.4 856.2 1234.4 857.9 1235.4 857.7 1236.4 857.2 1237.4 858.6 1238.4 858.0 1239.4 862.3 1240.4 857.2 1241.4 859.3 1242.4 858.8 1243.4 857.6 1244.4 856.5 1245.4 859.7 1246.4 861.3 1247.4 861.7 1248.4 858.2 1249.4 858.4 1250.4 861.8 1251.4 859.4 1252.4 860.3 1253.4 859.0 1254.4 861.0 1255.4 861.8 1256.4 860.5 1257.4 858.6 1258.4 860.7 1259.4 859.2 1260.4 859.5 1261.4 858.4 1262.4 858.6 1263.4 861.6 1264.4 861.6 1265.4 859.2 1266.4 860.9 1267.4 858.4 1268.4 859.6 1269.4 861.1 1270.4 859.0 1271.4 861.9 1272.4 857.7 1273.4 862.3 1274.4 862.0 1275.4 862.6 1276.4 860.4 1277.4 860.0 1278.4 860.3 1279.4 860.4 1280.4 862.6 1281.4 861.1 1282.4 861.4 1283.4 861.6 1284.4 862.0 1285.4 862.9 1286.4 860.5 1287.4 860.3 1288.4 861.9 1289.4 860.3 1290.4 858.9 1291.4 860.2 1292.4 861.6 1293.4 862.3 1294.4 861.2 1295.4 863.9 1296.4 862.2 1297.4 863.4 1298.4 862.1 1299.4 861.1 1300.4 862.7 1301.4 861.6 1302.4 860.4 1303.4 861.5 1304.4 862.7 1305.4 863.9 1306.4 861.4 1307.4 865.4 1308.4 861.7 1309.4 862.0 1310.4 861.1 1311.4 860.4 1312.4 863.5 1313.4 863.4 1314.4 861.7 1315.4 863.3 1316.4 863.2 1317.4 865.0 1318.4 863.5 1319.4 865.2 1320.4 862.2 1321.4 861.1 1322.4 864.0 1323.4 862.4 1324.4 864.3 1325.4 864.8 1326.4 864.4 1327.4 863.6 1328.4 862.4 1329.4 863.0 1330.4 862.5 1331.4 862.0 1332.4 862.5 1333.4 861.9 1334.4 861.3 1335.4 862.8 1336.4 862.4 1337.4 863.9 1338.4 862.2 1339.4 863.5 1340.4 863.7 1341.4 863.5 1342.4 864.8 1343.4 863.2 1344.4 861.9 1345.4 862.8 1346.4 864.9 1347.4 862.1 1348.4 864.2 1349.4 861.8 1350.4 862.9 1351.4 865.6 1352.4 865.5 1353.4 865.2 1354.4 863.7 1355.4 862.4 1356.4 864.2 1356.4 867.8 1355.4 868.0 1354.4 868.7 1353.4 868.1 1352.4 872.3 1351.4 869.9 1350.4 869.0 1349.4 868.1 1348.4 867.8 1347.4 867.6 1346.4 870.1 1345.4 867.6 1344.4 865.8 1343.4 866.1 1342.4 868.3 1341.4 870.9 1340.4 869.9 1339.4 868.6 1338.4 867.8 1337.4 867.2 1336.4 868.1 1335.4 868.3 1334.4 868.2 1333.4 867.9 1332.4 867.6 1331.4 867.0 1330.4 869.0 1329.4 867.0 1328.4 866.9 1327.4 867.1 1326.4 867.7 1325.4 868.2 1324.4 868.2 1323.4 865.5 1322.4 867.2 1321.4 865.0 1320.4 866.4 1319.4 868.1 1318.4 867.1 1317.4 869.4 1316.4 867.0 1315.4 866.8 1314.4 867.1 1313.4 868.9 1312.4 866.6 1311.4 865.5 1310.4 867.9 1309.4 868.0 1308.4 867.3 1307.4 869.4 1306.4 866.3 1305.4 869.8 1304.4 867.7 1303.4 867.2 1302.4 865.0 1301.4 865.9 1300.4 867.3 1299.4 865.2 1298.4 868.3 1297.4 866.8 1296.4 867.3 1295.4 868.9 1294.4 866.8 1293.4 866.2 1292.4 866.6 1291.4 866.8 1290.4 865.4 1289.4 865.1 1288.4 866.6 1287.4 865.2 1286.4 865.7 1285.4 869.8 1284.4 866.1 1283.4 864.7 1282.4 868.8 1281.4 866.5 1280.4 867.0 1279.4 865.4 1278.4 864.5 1277.4 865.9 1276.4 863.9 1275.4 871.1 1274.4 871.1 1273.4 867.2 1272.4 863.6 1271.4 866.6 1270.4 863.4 1269.4 864.1 1268.4 868.4 1267.4 861.8 1266.4 864.2 1265.4 863.0 1264.4 865.4 1263.4 865.3 1262.4 862.8 1261.4 865.3 1260.4 863.4 1259.4 863.9 1258.4 864.0 1257.4 865.6 1256.4 863.7 1255.4 867.0 1254.4 864.5 1253.4 863.9 1252.4 865.4 1251.4 863.2 1250.4 866.0 1249.4 863.2 1248.4 861.4 1247.4 866.9 1246.4 865.2 1245.4 862.8 1244.4 864.5 1243.4 861.5 1242.4 864.2 1241.4 863.1 1240.4 861.4 1239.4 867.8 1238.4 863.0 1237.4 862.7 1236.4 863.1 1235.4 862.2 1234.4 864.0 1233.4 863.5 1232.4 863.7 1231.4 861.1 1230.4 863.1 1229.4 864.4 1228.4 861.8 1227.4 861.7 1226.4 864.2 1225.4 862.6 1224.4 862.1 1223.4 862.1 1222.4 862.9 1221.4 866.4 1220.4 861.8 1219.4 861.7 1218.4 861.8 1217.4 864.2 1216.4 863.0 1215.4 862.8 1214.4 867.2 1213.4 863.1 1212.4 859.4 1211.4 863.0 1210.4 860.3 1209.4 863.3 1208.4 862.2 1207.4 863.2 1206.4 864.1 1205.4 863.1 1204.4 863.7 1203.4 861.8 1202.4 864.3 1201.4 861.3 1200.4 860.8 1199.4 862.8 1198.4 863.3 1197.4 861.8Z" fill="#000" stroke="#000" stroke-width="0.5" stroke-linejoin="round"/>
<line x1="735.2" y1="802" x2="735.2" y2="834.1" stroke="#000" stroke-width="1.8"/>
<path d="M735.2 846.1 L725.2 826.1 L735.2 832.1 L745.2 826.1 Z" fill="#000"/>
<line x1="901.5" y1="802" x2="901.5" y2="834.1" stroke="#000" stroke-width="1.8"/>
<path d="M901.5 846.1 L891.5 826.1 L901.5 832.1 L911.5 826.1 Z" fill="#000"/>
<line x1="1067" y1="802" x2="1067" y2="834.1" stroke="#000" stroke-width="1.8"/>
<path d="M1067 846.1 L1057 826.1 L1067 832.1 L1077 826.1 Z" fill="#000"/>
<line x1="1256.5" y1="802" x2="1256.5" y2="834.1" stroke="#000" stroke-width="1.8"/>
<path d="M1256.5 846.1 L1246.5 826.1 L1256.5 832.1 L1266.5 826.1 Z" fill="#000"/>
<line x1="770.9" y1="909.7" x2="1097" y2="909.7" stroke="#000" stroke-width="2.4" stroke-dasharray="10.3 7.2"/>
<text transform="translate(936.2 911.1)" font-size="23" letter-spacing="1.95" text-anchor="middle" stroke="#000" stroke-width="0.4">**</text>
<line x1="1115.9" y1="918.1" x2="1244.3" y2="918.1" stroke="#000" stroke-width="2.4" stroke-dasharray="10.1 7.47"/>
<text transform="translate(1174.4 921.5)" font-size="23" letter-spacing="1.95" text-anchor="middle" stroke="#000" stroke-width="0.4">***</text>
<line x1="769" y1="1087.5" x2="897.6" y2="1087.5" stroke="#000" stroke-width="2.4" stroke-dasharray="10.1 7.45"/>
<text transform="translate(833.2 1093.9)" font-size="23" letter-spacing="1.95" text-anchor="middle" stroke="#000" stroke-width="0.4">**</text>
<rect x="668" y="951" width="4.5" height="380" fill="#000"/>
<rect x="651" y="951.3" width="18" height="4" fill="#000"/>
<rect x="651" y="1077.1" width="18" height="4" fill="#000"/>
<rect x="651" y="1202.7" width="18" height="4" fill="#000"/>
<rect x="773.8" y="1329" width="4.2" height="17" fill="#000"/>
<rect x="934.1" y="1329" width="4.2" height="17" fill="#000"/>
<rect x="1093.7" y="1329" width="4.2" height="17" fill="#000"/>
<rect x="1253.3" y="1329" width="4.2" height="17" fill="#000"/>
<text transform="translate(645 969.3) scale(1.0 1.075)" font-size="35" font-weight="bold" text-anchor="end">0.3</text>
<text transform="translate(645 1093.1) scale(1.0 1.075)" font-size="35" font-weight="bold" text-anchor="end">0.2</text>
<text transform="translate(645 1221.3) scale(1.0 1.075)" font-size="35" font-weight="bold" text-anchor="end">0.1</text>
<text transform="translate(645 1342.2) scale(1.0 1.075)" font-size="35" font-weight="bold" text-anchor="end">0.0</text>
<text transform="translate(480 1089.5) rotate(-90) scale(1.0 1.04)" font-size="31.6" font-weight="bold" text-anchor="middle">Fluorescence</text>
<text transform="translate(518.3 1090) rotate(-90)" font-size="31.4" font-weight="bold" text-anchor="middle">intensity changes</text>
<text transform="translate(554.8 1089.5) rotate(-90) scale(1 1.0)" font-size="32" font-weight="bold" text-anchor="middle">(ΔF<tspan font-size="20.5" dy="7.5">340/380</tspan><tspan dy="-7.5">)</tspan></text>
<rect x="726.8" y="1207.2" width="99.6" height="121.8" fill="#fff"/>
<rect x="723.7" y="1204.3" width="6.2" height="124.7" fill="#000"/>
<rect x="823.3" y="1204.3" width="6.2" height="124.7" fill="#000"/>
<rect x="723.7" y="1204.3" width="105.8" height="5.8" fill="#000"/>
<rect x="886" y="1270" width="100" height="59" fill="url(#chk1)"/>
<rect x="883.2" y="1267.3" width="6.3" height="61.7" fill="#000"/>
<rect x="982.6" y="1267.3" width="6.3" height="61.7" fill="#000"/>
<rect x="883.2" y="1267.3" width="105.7" height="5.8" fill="#000"/>
<rect x="1046" y="1089.5" width="99.7" height="239.5" fill="#fff"/>
<rect x="1042.8" y="1086.6" width="6.4" height="242.4" fill="#000"/>
<rect x="1142.5" y="1086.6" width="6.4" height="242.4" fill="#000"/>
<rect x="1042.8" y="1086.6" width="106.1" height="5.8" fill="#000"/>
<rect x="1205" y="1294" width="100" height="35" fill="url(#chk2)"/>
<rect x="1202.2" y="1292.1" width="6.4" height="36.9" fill="#000"/>
<rect x="1301.5" y="1292.1" width="6.4" height="36.9" fill="#000"/>
<rect x="1202.2" y="1292.1" width="105.7" height="5.8" fill="#000"/>
<text transform="translate(776.5 1131.7) scale(1.0 1.04)" font-size="31.7" text-anchor="middle">n=20</text>
<text transform="translate(915.5 1223) scale(1.0 1.04)" font-size="31.7" text-anchor="middle">n=30</text>
<text transform="translate(1104.5 954) scale(1.0 1.04)" font-size="31.7" text-anchor="middle">n=20</text>
<text transform="translate(1253.1 1260) scale(1.0 1.04)" font-size="31.7" text-anchor="middle">n=32</text>
<g fill="#000">
<ellipse cx="776.5" cy="1163.7" rx="7" ry="6"/>
<ellipse cx="781.6" cy="1180.0" rx="7" ry="6"/>
<ellipse cx="737.3" cy="1190.3" rx="7" ry="6"/>
<ellipse cx="748.5" cy="1194.4" rx="7" ry="6"/>
<ellipse cx="770.7" cy="1189.9" rx="7" ry="6"/>
<ellipse cx="759.4" cy="1201.9" rx="7" ry="6"/>
<ellipse cx="770.7" cy="1204.9" rx="7" ry="6"/>
<ellipse cx="793.4" cy="1200.8" rx="7" ry="6"/>
<ellipse cx="815.5" cy="1201.9" rx="7" ry="6"/>
<ellipse cx="782.1" cy="1208.5" rx="7" ry="6"/>
<ellipse cx="787.2" cy="1209.5" rx="7" ry="6"/>
<ellipse cx="804.7" cy="1206.4" rx="7" ry="6"/>
<ellipse cx="809.9" cy="1210.5" rx="7" ry="6"/>
<ellipse cx="731.5" cy="1214.6" rx="7" ry="6"/>
<ellipse cx="742.3" cy="1215.7" rx="7" ry="6"/>
<ellipse cx="753.6" cy="1217.1" rx="7" ry="6"/>
<ellipse cx="764.9" cy="1214.2" rx="7" ry="6"/>
<ellipse cx="798.1" cy="1220.4" rx="7" ry="6"/>
<ellipse cx="820.2" cy="1225.6" rx="7" ry="6"/>
<ellipse cx="776.3" cy="1212.6" rx="7" ry="6"/>
<ellipse cx="890.7" cy="1266.8" rx="7" ry="6"/>
<ellipse cx="896.5" cy="1270.3" rx="7" ry="6"/>
<ellipse cx="903.7" cy="1268.2" rx="7" ry="6"/>
<ellipse cx="909.9" cy="1276.1" rx="7" ry="6"/>
<ellipse cx="917.1" cy="1266.2" rx="7" ry="6"/>
<ellipse cx="923.3" cy="1263.1" rx="7" ry="6"/>
<ellipse cx="933.6" cy="1255.9" rx="7" ry="6"/>
<ellipse cx="946.0" cy="1256.3" rx="7" ry="6"/>
<ellipse cx="939.8" cy="1266.2" rx="7" ry="6"/>
<ellipse cx="941.9" cy="1270.3" rx="7" ry="6"/>
<ellipse cx="956.3" cy="1265.2" rx="7" ry="6"/>
<ellipse cx="968.7" cy="1277.5" rx="7" ry="6"/>
<ellipse cx="972.8" cy="1268.2" rx="7" ry="6"/>
<ellipse cx="977.9" cy="1272.4" rx="7" ry="6"/>
<ellipse cx="982.1" cy="1278.6" rx="7" ry="6"/>
<ellipse cx="927.4" cy="1266.2" rx="7" ry="6"/>
<ellipse cx="950.1" cy="1266.2" rx="7" ry="6"/>
<ellipse cx="962.5" cy="1268.2" rx="7" ry="6"/>
<ellipse cx="913.0" cy="1268.2" rx="7" ry="6"/>
<ellipse cx="930.5" cy="1268.2" rx="7" ry="6"/>
<ellipse cx="936.7" cy="1261.0" rx="7" ry="6"/>
<ellipse cx="1095.8" cy="1001.3" rx="7.2" ry="6.2"/>
<ellipse cx="1106.1" cy="1021.9" rx="7.2" ry="6.2"/>
<ellipse cx="1085.0" cy="1033.9" rx="7.2" ry="6.2"/>
<ellipse cx="1085.0" cy="1038.0" rx="7.2" ry="6.2"/>
<ellipse cx="1106.1" cy="1051.7" rx="7.2" ry="6.2"/>
<ellipse cx="1106.1" cy="1079.2" rx="7.2" ry="6.2"/>
<ellipse cx="1063.7" cy="1081.5" rx="7.2" ry="6.2"/>
<ellipse cx="1085.0" cy="1084.9" rx="7.2" ry="6.2"/>
<ellipse cx="1127.1" cy="1084.9" rx="7.2" ry="6.2"/>
<ellipse cx="1053.8" cy="1091.8" rx="7.2" ry="6.2"/>
<ellipse cx="1074.5" cy="1095.3" rx="7.2" ry="6.2"/>
<ellipse cx="1095.8" cy="1092.3" rx="7.2" ry="6.2"/>
<ellipse cx="1116.8" cy="1097.5" rx="7.2" ry="6.2"/>
<ellipse cx="1137.5" cy="1102.6" rx="7.2" ry="6.2"/>
<ellipse cx="1127.1" cy="1114.7" rx="7.2" ry="6.2"/>
<ellipse cx="1063.7" cy="1122.7" rx="7.2" ry="6.2"/>
<ellipse cx="1085.0" cy="1123.9" rx="7.2" ry="6.2"/>
<ellipse cx="1106.1" cy="1128.5" rx="7.2" ry="6.2"/>
<ellipse cx="1085.0" cy="1140.6" rx="7.2" ry="6.2"/>
<ellipse cx="1106.1" cy="1145.7" rx="7.2" ry="6.2"/>
<ellipse cx="1211.7" cy="1290.9" rx="6.8" ry="5.7"/>
<ellipse cx="1221.3" cy="1290.1" rx="6.8" ry="5.7"/>
<ellipse cx="1236.5" cy="1286.1" rx="6.8" ry="5.7"/>
<ellipse cx="1246.1" cy="1290.9" rx="6.8" ry="5.7"/>
<ellipse cx="1256.6" cy="1281.7" rx="6.8" ry="5.7"/>
<ellipse cx="1270.2" cy="1287.7" rx="6.8" ry="5.7"/>
<ellipse cx="1280.6" cy="1291.7" rx="6.8" ry="5.7"/>
<ellipse cx="1290.2" cy="1292.5" rx="6.8" ry="5.7"/>
<ellipse cx="1299.9" cy="1285.7" rx="6.8" ry="5.7"/>
<ellipse cx="1216.5" cy="1294.9" rx="6.8" ry="5.7"/>
<ellipse cx="1231.7" cy="1295.7" rx="6.8" ry="5.7"/>
<ellipse cx="1262.2" cy="1294.9" rx="6.8" ry="5.7"/>
<ellipse cx="1275.0" cy="1294.1" rx="6.8" ry="5.7"/>
<ellipse cx="1288.6" cy="1296.5" rx="6.8" ry="5.7"/>
<ellipse cx="1297.5" cy="1296.5" rx="6.8" ry="5.7"/>
<ellipse cx="1251.7" cy="1293.3" rx="6.8" ry="5.7"/>
<ellipse cx="1241.3" cy="1293.3" rx="6.8" ry="5.7"/>
<ellipse cx="1226.1" cy="1293.3" rx="6.8" ry="5.7"/>
</g>
<line x1="776.5" y1="1189.5" x2="776.5" y2="1218.3" stroke="#000" stroke-width="1.7"/>
<line x1="748" y1="1189.5" x2="803" y2="1189.5" stroke="#000" stroke-width="1.7"/>
<line x1="748" y1="1218.3" x2="803" y2="1218.3" stroke="#000" stroke-width="1.7"/>
<line x1="1095.8" y1="1046.2" x2="1095.8" y2="1126.6" stroke="#000" stroke-width="1.7"/>
<line x1="1069.4" y1="1046.2" x2="1122" y2="1046.2" stroke="#000" stroke-width="1.7"/>
<line x1="1069.4" y1="1126.6" x2="1122" y2="1126.6" stroke="#000" stroke-width="1.7"/>
<rect x="651" y="1327.9" width="714" height="3.8" fill="#000"/>
<text transform="translate(552.3 1396.5) scale(1.0 1.02)" font-size="35" font-weight="bold" text-anchor="start">OM</text>
<text transform="translate(540 1452.6) scale(1.0 0.98)" font-size="36" font-weight="bold" text-anchor="start">Yoda</text>
<text transform="translate(532 1504.6) scale(1.0 1.02)" font-size="34.8" font-weight="bold" text-anchor="start">Dooku</text>
<rect x="545" y="1404.9" width="816.2" height="2.4" fill="#000"/>
<rect x="545" y="1459.6" width="816.2" height="2.4" fill="#000"/>
<text transform="translate(773.3 1389.25)" font-size="37" font-weight="bold" text-anchor="middle">-</text>
<text transform="translate(930.8 1389.05)" font-size="37" font-weight="bold" text-anchor="middle">-</text>
<text transform="translate(1094.7 1390.02)" font-size="37" font-weight="bold" text-anchor="middle">+</text>
<text transform="translate(1251.2 1389.42)" font-size="37" font-weight="bold" text-anchor="middle">+</text>
<text transform="translate(772.3 1450.82)" font-size="37" font-weight="bold" text-anchor="middle">+</text>
<text transform="translate(931.3 1448.72)" font-size="37" font-weight="bold" text-anchor="middle">+</text>
<text transform="translate(1095.5 1450.12)" font-size="37" font-weight="bold" text-anchor="middle">+</text>
<text transform="translate(1253.7 1451.42)" font-size="37" font-weight="bold" text-anchor="middle">+</text>
<text transform="translate(772.3 1498.45)" font-size="37" font-weight="bold" text-anchor="middle">-</text>
<text transform="translate(931.4 1502.5) scale(1.0 1.03)" font-size="33" font-weight="bold" text-anchor="middle">5</text>
<text transform="translate(1096.1 1497.75)" font-size="37" font-weight="bold" text-anchor="middle">-</text>
<text transform="translate(1255.1 1502.5) scale(1.0 1.03)" font-size="33" font-weight="bold" text-anchor="middle">5</text>
</svg>
</body></html>
